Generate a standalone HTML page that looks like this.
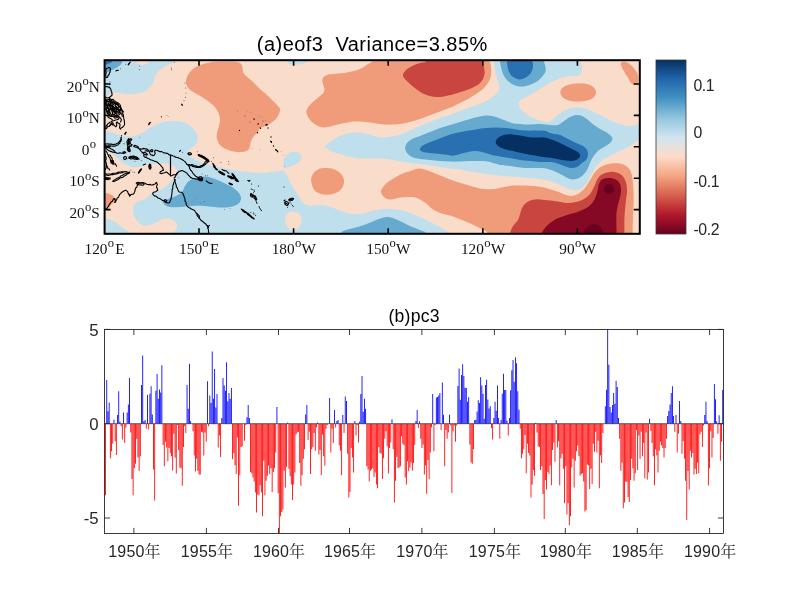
<!DOCTYPE html>
<html lang="zh"><head><meta charset="utf-8"><title>EOF3</title>
<style>html,body{margin:0;padding:0;background:#fff}body{width:800px;height:600px;overflow:hidden}svg{display:block}.ser{font-family:"Liberation Serif","Noto Serif CJK SC",serif;font-size:15.3px;fill:#111}.san{font-family:"Liberation Sans","Noto Sans CJK SC",sans-serif;fill:#262626}</style></head><body>
<svg width="800" height="600" viewBox="0 0 800 600">
<rect width="800" height="600" fill="#fff"/>
<defs><clipPath id="mc"><rect x="104.6" y="60.2" width="535.1999999999999" height="173.60000000000002"/></clipPath>
<linearGradient id="cb" x1="0" y1="0" x2="0" y2="1"><stop offset="0.0000" stop-color="#053061"/><stop offset="0.1111" stop-color="#2166ac"/><stop offset="0.2222" stop-color="#4393c3"/><stop offset="0.3333" stop-color="#92c5de"/><stop offset="0.4444" stop-color="#d1e5f0"/><stop offset="0.5556" stop-color="#fddbc7"/><stop offset="0.6667" stop-color="#f4a582"/><stop offset="0.7778" stop-color="#d6604d"/><stop offset="0.8889" stop-color="#b2182b"/><stop offset="1.0000" stop-color="#67001f"/></linearGradient></defs>
<g clip-path="url(#mc)">
<rect x="104.6" y="60.2" width="535.1999999999999" height="173.60000000000002" fill="#f9dcca"/>
<path d="M95,50C108,46.7 159.8,48.2 173,50C186.2,51.8 174.8,58.5 174,61C173.2,63.5 170.3,63.6 168,65C165.7,66.4 162.1,67.7 160,69.4C157.9,71.1 156.7,73.1 155.6,75C154.5,76.9 154.4,79.2 153.6,81C152.8,82.8 152.2,84.5 151,86C149.8,87.5 148.2,88.8 146.4,90C144.6,91.2 142.4,92.3 140,93C137.6,93.7 135,94.1 132,94.2C129,94.3 125,93.7 122,93.4C119,93.1 116.2,92.5 114,92.6C111.8,92.7 110.3,93.2 109,94C107.7,94.8 106.8,96.7 106,97.4C105.2,98.1 105.8,97.9 104,98C102.2,98.1 96.5,102.7 95,98C93.5,93.3 95,78 95,70C95,62 82,53.3 95,50Z" fill="#c0dfec"/>
<path d="M95,131C96.5,111.9 101.2,130.3 104,130.6C106.8,130.9 109.3,131.9 112,132.6C114.7,133.3 117.3,134.4 120,135C122.7,135.6 125.3,136.3 128,136.4C130.7,136.5 133.5,136 136,135.4C138.5,134.8 140.7,133.8 143,132.6C145.3,131.4 147.5,129.4 150,128C152.5,126.6 155.3,125.1 158,124C160.7,122.9 163.3,122.1 166,121.6C168.7,121.1 171.3,120.9 174,121C176.7,121.1 179.5,121.3 182,122C184.5,122.7 186.9,123.7 189,125C191.1,126.3 193,128.2 194.4,130C195.8,131.8 197,134 197.4,136C197.8,138 197.6,140.3 197,142C196.4,143.7 195.2,144.9 194,146C192.8,147.1 191,147.6 190,148.6C189,149.6 188,150.8 188,152C188,153.2 188.7,154.7 190,156C191.3,157.3 193.3,158.7 196,160C198.7,161.3 202.3,162.8 206,164C209.7,165.2 214,166.1 218,167C222,167.9 225.7,168.6 230,169.4C234.3,170.2 239,171 244,171.6C249,172.2 256,172.9 260,173C264,173.1 265.3,172.6 268,172.4C270.7,172.2 273.7,171.9 276,171.6C278.3,171.3 280.1,170.7 281.6,170.8C283.1,170.9 284.1,171.2 285.2,172.4C286.3,173.6 286.7,175.6 288,178C289.3,180.4 291.2,183.8 293,187C294.8,190.2 297.3,194.3 299,197C300.7,199.7 301.2,201.6 303,203C304.8,204.4 307.2,205.3 310,205.6C312.8,205.9 317,204.9 320,205C323,205.1 325.3,205.3 328,206C330.7,206.7 333.3,208 336,209C338.7,210 341.3,211.2 344,212C346.7,212.8 349.3,213.7 352,214C354.7,214.3 357.3,214.3 360,214C362.7,213.7 365.3,212.7 368,212C370.7,211.3 373.3,210.5 376,210C378.7,209.5 381.3,209.2 384,209C386.7,208.8 389.3,208.8 392,209C394.7,209.2 397,209.3 400,210C403,210.7 406.7,211.8 410,213C413.3,214.2 416.7,215.5 420,217C423.3,218.5 426.7,220.3 430,222C433.3,223.7 437,225.3 440,227C443,228.7 446.3,230.9 448,232C449.7,233.1 449.3,231.2 450,233.4C450.7,235.6 511.2,243.1 452,245C392.8,246.9 154.5,264 95,245C35.5,226 93.5,150.1 95,131Z" fill="#c0dfec"/>
<path d="M325,146C325.2,144.7 327.5,143.7 330,142C332.5,140.3 336.7,137.5 340,136C343.3,134.5 346.7,133.6 350,133C353.3,132.4 357,132.4 360,132.6C363,132.8 365.3,133.3 368,134C370.7,134.7 373.3,136 376,136.6C378.7,137.2 381.3,137.4 384,137.4C386.7,137.4 389.3,137.1 392,136.6C394.7,136.1 397,135.6 400,134.6C403,133.6 406.7,132 410,130.6C413.3,129.2 416.7,127.4 420,126C423.3,124.6 426.7,123.3 430,122C433.3,120.7 436.7,119.2 440,118C443.3,116.8 446.7,116.2 450,115C453.3,113.8 456.7,112.3 460,111C463.3,109.7 466.7,108.6 470,107.4C473.3,106.2 477,105.2 480,104C483,102.8 485.7,101.3 488,100C490.3,98.7 492.3,97.3 494,96C495.7,94.7 497.1,93.5 498,92C498.9,90.5 499.4,88.8 499.4,87C499.4,85.2 498.6,83 498,81C497.4,79 496.6,77.3 496,75C495.4,72.7 494.7,69.3 494.4,67C494.1,64.7 494.1,63.8 494,61C493.9,58.2 479.7,51.8 494,50C508.3,48.2 565.7,48.2 580,50C594.3,51.8 579.7,58.2 580,61C580.3,63.8 581.8,65 582,67C582.2,69 581.7,71.5 581,73C580.3,74.5 579.5,75.5 578,76C576.5,76.5 574.3,75.8 572,76C569.7,76.2 566.7,76.3 564,77C561.3,77.7 558.7,78.8 556,80C553.3,81.2 550.7,82.5 548,84C545.3,85.5 542.7,87.3 540,89C537.3,90.7 534.7,92.5 532,94C529.3,95.5 526.2,96.7 524,98C521.8,99.3 519.7,100.3 519,102C518.3,103.7 518.8,106 520,108C521.2,110 523.3,112.2 526,114C528.7,115.8 532.7,117.7 536,119C539.3,120.3 543.3,121.8 546,122C548.7,122.2 550,121.2 552,120C554,118.8 556,116.5 558,115C560,113.5 561.7,112.2 564,111C566.3,109.8 569.3,108.6 572,108C574.7,107.4 577.3,107.2 580,107.4C582.7,107.6 585.3,108.5 588,109.4C590.7,110.3 593.3,111.7 596,113C598.7,114.3 601.3,115.7 604,117C606.7,118.3 609.3,119.8 612,121C614.7,122.2 617.3,123.2 620,124C622.7,124.8 625.3,125.8 628,126C630.7,126.2 634,125.5 636,125C638,124.5 637.7,123.5 640,123C642.3,122.5 648.3,119.2 650,122C651.7,124.8 651.7,137.2 650,140C648.3,142.8 642.3,138.7 640,139C637.7,139.3 638,140.7 636,142C634,143.3 630.7,145.5 628,147C625.3,148.5 622.7,149.7 620,151C617.3,152.3 614.7,153.7 612,155C609.3,156.3 606.3,157.5 604,159C601.7,160.5 599.7,162.2 598,164C596.3,165.8 595.3,167.8 594,170C592.7,172.2 591.3,174.7 590,177C588.7,179.3 587.7,182 586,184C584.3,186 582,188 580,189C578,190 576.3,190.2 574,190C571.7,189.8 568.7,189 566,188C563.3,187 560.7,185.2 558,184C555.3,182.8 553,181.8 550,181C547,180.2 543.3,179.5 540,179C536.7,178.5 533.3,178.3 530,178C526.7,177.7 523.3,177.2 520,177C516.7,176.8 513.3,176.8 510,176.6C506.7,176.4 503.3,176 500,175.6C496.7,175.2 493.3,174.8 490,174.4C486.7,174 483.3,173.5 480,173C476.7,172.5 473.3,172.2 470,171.6C466.7,171 463.3,170.1 460,169.6C456.7,169.1 453.3,168.8 450,168.4C446.7,168 443.3,167.6 440,167C436.7,166.4 433.3,165.5 430,165C426.7,164.5 423.3,164.3 420,164C416.7,163.7 413.3,163.4 410,163C406.7,162.6 403.7,162.3 400,161.6C396.3,160.9 392,159.5 388,159C384,158.5 379.7,158.5 376,158.4C372.3,158.3 369.3,158.7 366,158.6C362.7,158.5 359.3,158.4 356,158C352.7,157.6 349.3,156.8 346,156C342.7,155.2 338.8,154 336,153C333.2,152 330.8,151.2 329,150C327.2,148.8 324.8,147.3 325,146Z" fill="#c0dfec"/>
<path d="M284.5,167.8C283.8,167.4 283.5,165.9 283.4,164.8C283.2,163.7 283.2,162.5 283.6,161C284,159.5 284.4,157.4 285.5,156C286.6,154.6 288.4,153.2 290,152.5C291.6,151.8 293.4,151.6 295,151.8C296.6,152 298.4,152.7 299.5,153.5C300.6,154.3 301.3,155.4 301.5,156.5C301.7,157.6 301.2,158.8 300.5,160C299.8,161.2 298.4,162.5 297,163.5C295.6,164.5 293.6,165.3 292,166C290.4,166.7 288.8,167.2 287.5,167.5C286.2,167.8 285.2,168.2 284.5,167.8Z" fill="#c0dfec"/>
<path d="M287,55C283.5,56 286.5,59.5 287,61C287.5,62.5 288.2,63.4 290,64C291.8,64.6 295.5,64.8 298,64.6C300.5,64.4 303.3,63.6 305,63C306.7,62.4 307.5,62.3 308,61C308.5,59.7 311.5,56 308,55C304.5,54 290.5,54 287,55Z" fill="#c0dfec"/>
<path d="M135.6,59C133.4,59.5 135.4,61.1 136,62C136.6,62.9 137.9,63.9 139,64.4C140.1,64.9 141.2,65 142.4,65C143.6,65 145,64.7 146,64.2C147,63.7 148.1,62.9 148.6,62C149.1,61.1 151.4,59.5 149.2,59C147,58.5 137.8,58.5 135.6,59Z" fill="#f9dcca"/>
<path d="M95,150C96.5,138.8 101.5,150.1 104,150.5C106.5,150.9 108.2,151.6 110,152.5C111.8,153.4 113.3,154.7 115,156C116.7,157.3 118.3,159.2 120,160.5C121.7,161.8 123.3,163.1 125,164C126.7,164.9 128.3,165.7 130,166.2C131.7,166.7 133.3,167.1 135,167.2C136.7,167.2 138,166.9 140,166.5C142,166.1 144.7,165.4 147,165C149.3,164.6 151.5,164.1 154,163.8C156.5,163.6 159.5,163.5 162,163.5C164.5,163.5 167,163.6 169,164C171,164.4 172.8,165.2 174,166C175.2,166.8 176,168 176.5,169C177,170 177.1,171 177,172C176.9,173 176.5,174 176,175C175.5,176 175,176.8 174,178C173,179.2 171.3,180.7 170,182C168.7,183.3 167.3,184.8 166,186C164.7,187.2 163.3,188.2 162,189C160.7,189.8 159.3,190 158,190.5C156.7,191 155.3,191.2 154,192C152.7,192.8 151.2,194 150,195C148.8,196 148.2,197.2 147,198C145.8,198.8 144.3,199.5 143,200C141.7,200.5 140.2,200.5 139,201C137.8,201.5 136.4,202.2 135.5,203C134.6,203.8 133.9,204.8 133.5,206C133.1,207.2 133,208.7 133,210C133,211.3 133.2,212.7 133.5,214C133.8,215.3 134.2,216.7 135,218C135.8,219.3 136.8,220.8 138,222C139.2,223.2 140.7,224.4 142,225C143.3,225.6 144.7,225.8 146,225.8C147.3,225.8 148.7,225.4 150,225C151.3,224.6 152.7,224.1 154,223.5C155.3,222.9 156.7,222.2 158,221.5C159.3,220.8 160.7,220 162,219.5C163.3,219 164.7,218.6 166,218.5C167.3,218.4 168.7,218.5 170,218.8C171.3,219.1 172.9,219.7 174,220.5C175.1,221.3 176,222.4 176.5,223.5C177,224.6 177.2,225.8 177,227C176.8,228.2 176.2,229.4 175.5,230.5C174.8,231.6 173.6,231.1 173,233.5C172.4,235.9 179.3,243.1 172,245C164.7,246.9 136.2,246.9 129,245C121.8,243.1 129.5,236 129,233.5C128.5,231 127.5,231.2 126,230C124.5,228.8 121.8,227.3 120,226C118.2,224.7 116.7,223 115,222C113.3,221 111.8,220.4 110,219.8C108.2,219.2 106.9,218.9 104.4,218.6C101.9,218.3 96.6,229.4 95,218C93.4,206.6 93.5,161.2 95,150Z" fill="#f9dcca"/>
<path d="M293,230.7C292,230.7 291.3,230.5 290.4,230C289.5,229.5 288.6,228.7 287.8,227.6C287,226.5 286.1,224.9 285.6,223.6C285.1,222.2 284.8,220.8 284.8,219.5C284.8,218.2 285.1,216.9 285.6,215.8C286.1,214.8 286.9,213.8 287.8,213.2C288.7,212.6 289.7,212.2 290.8,212C291.9,211.8 293.3,211.7 294.5,211.9C295.7,212.1 297,212.4 298,213C299,213.6 299.8,214.5 300.4,215.6C301,216.7 301.3,218.2 301.4,219.5C301.5,220.8 301.2,222.3 300.8,223.6C300.4,224.9 299.7,226.2 299,227.2C298.3,228.2 297.4,229.2 296.4,229.8C295.4,230.4 294,230.7 293,230.7Z" fill="#f9dcca"/>
<path d="M95,50C99.5,46.2 117.8,48.3 122.3,50C126.8,51.7 122.3,58.1 122.3,60.1C122.2,62.2 122.1,61.6 121.9,62.4C121.6,63.1 121.3,63.9 120.8,64.6C120.2,65.3 119.5,65.8 118.5,66.5C117.5,67.2 116,68.1 114.8,68.8C113.5,69.4 112,70.1 111,70.6C110,71.1 109.8,71.4 108.8,71.8C107.8,72.1 107.3,72.3 105,72.5C102.7,72.7 96.7,76.8 95,73C93.3,69.2 90.5,53.8 95,50Z" fill="#67aacf"/>
<path d="M163,202C163.5,201 165.8,200 168,199C170.2,198 173.7,197.2 176,196C178.3,194.8 180.5,193.7 182,192C183.5,190.3 183.8,187.8 185,186C186.2,184.2 187.2,182.3 189,181C190.8,179.7 193.5,178.7 196,178C198.5,177.3 201.3,176.6 204,176.6C206.7,176.6 209,177.1 212,178C215,178.9 218.7,180.5 222,182C225.3,183.5 229.2,185.2 232,187C234.8,188.8 237.5,191 239,193C240.5,195 241.2,197.2 241,199C240.8,200.8 239.8,202.7 238,204C236.2,205.3 233.3,206.4 230,207C226.7,207.6 222.3,207.6 218,207.4C213.7,207.2 208.3,206.2 204,206C199.7,205.8 196,205.8 192,206C188,206.2 183.7,206.8 180,207C176.3,207.2 172.5,207.3 170,207C167.5,206.7 166.2,205.8 165,205C163.8,204.2 162.5,203 163,202Z" fill="#67aacf"/>
<path d="M405,148C405.3,147.2 405.8,144.5 407,143C408.2,141.5 409.8,140.2 412,139C414.2,137.8 417,137.2 420,136C423,134.8 426.7,133.3 430,132C433.3,130.7 436.7,129.2 440,128C443.3,126.8 446.7,126 450,125C453.3,124 456.7,123 460,122C463.3,121 466.7,119.9 470,119C473.3,118.1 477,117.2 480,116.6C483,116 485.3,115.5 488,115.6C490.7,115.7 493.3,116.3 496,117C498.7,117.7 501.3,119 504,120C506.7,121 509.3,122.3 512,123C514.7,123.7 517,123.7 520,124C523,124.3 526.7,124.6 530,124.6C533.3,124.6 536.7,123.9 540,124C543.3,124.1 547,124.8 550,125C553,125.2 555.7,125.7 558,125C560.3,124.3 562,122.3 564,121C566,119.7 568,118 570,117C572,116 574,115.2 576,115C578,114.8 580,115.2 582,116C584,116.8 586,118.5 588,120C590,121.5 592,123.5 594,125C596,126.5 598,127.8 600,129C602,130.2 604.2,130.8 606,132C607.8,133.2 609.9,134.8 611,136C612.1,137.2 612.6,137.8 612.4,139C612.2,140.2 611.4,141.7 610,143C608.6,144.3 606,145.7 604,147C602,148.3 599.8,149.3 598,151C596.2,152.7 594.3,155 593,157C591.7,159 591,160.8 590,163C589,165.2 588.3,167.8 587,170C585.7,172.2 583.8,174.5 582,176C580.2,177.5 578,178.5 576,179C574,179.5 572,179.5 570,179C568,178.5 566.3,177.2 564,176C561.7,174.8 558.7,173.2 556,172C553.3,170.8 550.7,169.7 548,169C545.3,168.3 543,168.2 540,168C537,167.8 533.3,168.1 530,168C526.7,167.9 523.3,167.7 520,167.4C516.7,167.1 513.3,166.4 510,166C506.7,165.6 503.3,165.7 500,165C496.7,164.3 493.3,162.7 490,162C486.7,161.3 483.3,161.2 480,161C476.7,160.8 473.3,160.9 470,161C466.7,161.1 463.3,161.5 460,161.6C456.7,161.7 453.3,161.7 450,161.6C446.7,161.5 443.3,161.3 440,161C436.7,160.7 433.3,160.3 430,160C426.7,159.7 423,159.5 420,159C417,158.5 414.2,158 412,157C409.8,156 408.2,154.5 407,153C405.8,151.5 405.3,148.8 405,148C404.7,147.2 404.7,148.8 405,148Z" fill="#67aacf"/>
<path d="M500,50C492.7,51.8 499.8,58.2 500,61C500.2,63.8 500.5,64.8 501,67C501.5,69.2 502,71.8 503,74C504,76.2 505.3,78.2 507,80C508.7,81.8 510.8,83.5 513,84.6C515.2,85.7 517.5,86.5 520,86.6C522.5,86.7 525.3,86.2 528,85.4C530.7,84.6 533.7,83.4 536,82C538.3,80.6 540.4,78.8 542,77C543.6,75.2 545.1,73 545.6,71C546.1,69 545.3,66.7 545,65C544.7,63.3 544.2,63.5 544,61C543.8,58.5 551.3,51.8 544,50C536.7,48.2 507.3,48.2 500,50Z" fill="#67aacf"/>
<path d="M341,245C326.8,243.1 340.2,235.9 341,233.4C341.8,230.9 343.8,230.9 346,230C348.2,229.1 351,228.8 354,228C357,227.2 360.7,226.2 364,225C367.3,223.8 371,222.2 374,221C377,219.8 379.7,218.7 382,218C384.3,217.3 386,216.9 388,217C390,217.1 391.7,217.6 394,218.4C396.3,219.2 399.3,220.7 402,222C404.7,223.3 408.3,225.2 410,226C411.7,226.8 410.3,226.3 412,227C413.7,227.7 417.7,228.9 420,230C422.3,231.1 425,230.9 426,233.4C427,235.9 440.2,243.1 426,245C411.8,246.9 355.2,246.9 341,245Z" fill="#67aacf"/>
<path d="M95,50C97.9,47.6 109.6,48.3 112.5,50C115.4,51.7 112.6,58.2 112.5,60.1C112.4,62.1 112.4,61.2 112.1,61.6C111.9,62.1 111.7,62.4 111,62.8C110.3,63.1 109,63.6 108,63.9C107,64.2 107.2,64.5 105,64.6C102.8,64.7 96.7,67 95,64.6C93.3,62.2 92.1,52.4 95,50Z" fill="#2970b1"/>
<path d="M507,50C502.8,51.8 506.9,58.3 507,61C507.1,63.7 507.1,64.2 507.4,66C507.7,67.8 508.1,70.2 509,72C509.9,73.8 511.3,75.8 513,77C514.7,78.2 517,79.2 519,79.4C521,79.6 523.2,78.9 525,78C526.8,77.1 528.7,75.5 530,74C531.3,72.5 532.1,70.7 532.6,69C533.1,67.3 533,65.3 533,64C533,62.7 532.5,63.3 532.4,61C532.3,58.7 536.6,51.8 532.4,50C528.2,48.2 511.2,48.2 507,50Z" fill="#2970b1"/>
<path d="M420,149C420.3,148.3 420.7,147 422,146C423.3,145 425.7,144 428,143C430.3,142 433,141.2 436,140C439,138.8 442.7,137.2 446,136C449.3,134.8 452.7,133.8 456,133C459.3,132.2 462.7,131.6 466,131C469.3,130.4 472.7,129.9 476,129.4C479.3,128.9 482.7,128.3 486,128C489.3,127.7 492.7,127.4 496,127.4C499.3,127.4 502.7,127.7 506,128C509.3,128.3 512.7,129 516,129.4C519.3,129.8 522.7,130.4 526,130.6C529.3,130.8 532.7,130.5 536,130.6C539.3,130.7 543.7,130.6 546,131C548.3,131.4 547.7,132.3 550,133C552.3,133.7 557,134 560,135C563,136 565.3,137.7 568,139C570.7,140.3 573.5,141.8 576,143C578.5,144.2 581.2,144.8 583,146C584.8,147.2 586.2,148.5 587,150C587.8,151.5 588.2,153.3 588,155C587.8,156.7 587,158.7 586,160C585,161.3 583.5,161.8 582,163C580.5,164.2 578.8,166.2 577,167C575.2,167.8 573.2,168.2 571,168C568.8,167.8 566.5,166.8 564,166C561.5,165.2 558.7,163.7 556,163C553.3,162.3 550.7,162.2 548,162C545.3,161.8 543,162.2 540,162C537,161.8 533.3,161.3 530,161C526.7,160.7 523.3,160.5 520,160C516.7,159.5 513.3,158.6 510,158C506.7,157.4 503,156.9 500,156.4C497,155.9 494.7,155.7 492,155C489.3,154.3 486.7,153.1 484,152.4C481.3,151.7 478.7,151.1 476,151C473.3,150.9 470.7,151.5 468,152C465.3,152.5 462.3,153.4 460,154C457.7,154.6 456,155.4 454,155.6C452,155.8 450.3,155.3 448,155C445.7,154.7 443,154.3 440,154C437,153.7 432.8,153.3 430,153C427.2,152.7 424.7,152.5 423,152C421.3,151.5 420.5,150.5 420,150C419.5,149.5 419.7,149.7 420,149Z" fill="#2970b1"/>
<path d="M495.6,142C495.6,140.7 496.6,139.2 498,138C499.4,136.8 501.7,135.6 504,135C506.3,134.4 509.3,134.3 512,134.4C514.7,134.5 517.3,135 520,135.4C522.7,135.8 525.3,136.6 528,137C530.7,137.4 533.3,137.5 536,137.6C538.7,137.7 541.7,137.2 544,137.4C546.3,137.6 547.7,138.2 550,139C552.3,139.8 555.3,140.8 558,142C560.7,143.2 563.3,144.7 566,146C568.7,147.3 571.8,148.8 574,150C576.2,151.2 578,152 579,153C580,154 580.2,155 580,156C579.8,157 579.2,158.2 578,159C576.8,159.8 575,160.5 573,160.8C571,161.1 568.5,160.9 566,160.6C563.5,160.3 560.7,159.7 558,159.2C555.3,158.7 553,158.3 550,157.8C547,157.3 543.3,156.9 540,156.4C536.7,155.9 533.3,155.4 530,154.8C526.7,154.2 523,153.5 520,152.8C517,152.1 514.7,151.4 512,150.8C509.3,150.2 506.3,149.8 504,149C501.7,148.2 499.4,147.2 498,146C496.6,144.8 495.6,143.3 495.6,142Z" fill="#053061"/>
<path d="M186,81C186.2,79.2 186.8,77 188,75C189.2,73 191,70.7 193,69C195,67.3 197.2,66.1 200,65C202.8,63.9 206.7,63.2 210,62.6C213.3,62 216.3,61.8 220,61.6C223.7,61.4 228.7,61.4 232,61.6C235.3,61.8 238.3,62.1 240,63C241.7,63.9 241.9,65.5 242.4,67C242.9,68.5 242.4,70.5 243,72C243.6,73.5 244.5,74.5 246,76C247.5,77.5 249.7,78.8 252,81C254.3,83.2 257.7,86.8 260,89C262.3,91.2 264,92.2 266,94C268,95.8 270.2,98.2 272,100C273.8,101.8 275.7,103.5 277,105C278.3,106.5 279.7,107.5 280,109C280.3,110.5 279.7,112.3 279,114C278.3,115.7 277.3,117.5 276,119C274.7,120.5 272.7,121.8 271,123C269.3,124.2 267.8,125.2 266,126C264.2,126.8 261.3,127 260,128C258.7,129 259,130.7 258,132C257,133.3 255.2,134.5 254,136C252.8,137.5 251.7,139.3 251,141C250.3,142.7 250.5,144.5 250,146C249.5,147.5 249.3,149 248,150C246.7,151 244.3,151.7 242,152C239.7,152.3 236.7,152.1 234,151.6C231.3,151.1 228.3,150.1 226,149C223.7,147.9 221.5,146.7 220,145C218.5,143.3 217.5,141 217,139C216.5,137 216.7,135.2 217,133C217.3,130.8 218.5,128.3 219,126C219.5,123.7 220.2,121.3 220,119C219.8,116.7 219,114.2 218,112C217,109.8 215.7,107.8 214,106C212.3,104.2 210,102.5 208,101C206,99.5 204.2,98.3 202,97C199.8,95.7 197,94.2 195,93C193,91.8 191.3,91.2 190,90C188.7,88.8 187.7,87.5 187,86C186.3,84.5 185.8,82.8 186,81Z" fill="#f09b7a"/>
<path d="M306.4,111C306.6,109.2 307.7,107.7 309,106C310.3,104.3 312.2,102.7 314,101C315.8,99.3 318.3,97.5 320,96C321.7,94.5 323.3,93.5 324,92C324.7,90.5 324.3,88.7 324,87C323.7,85.3 322.6,83.5 322.4,82C322.2,80.5 322.2,79.2 323,78C323.8,76.8 325.2,75.7 327,75C328.8,74.3 331.2,74.3 334,74C336.8,73.7 340.7,73.5 344,73C347.3,72.5 351,71.8 354,71C357,70.2 359.7,69.2 362,68C364.3,66.8 366.3,65.2 368,64C369.7,62.8 371.3,63.3 372,61C372.7,58.7 352.3,51.8 372,50C391.7,48.2 470.3,48.2 490,50C509.7,51.8 489.8,58.2 490,61C490.2,63.8 490.8,64.7 491,67C491.2,69.3 491.3,72.7 491,75C490.7,77.3 490.2,78.8 489,81C487.8,83.2 486.2,85.8 484,88C481.8,90.2 478.7,92.2 476,94C473.3,95.8 470.7,97.5 468,99C465.3,100.5 462.7,101.7 460,103C457.3,104.3 454.7,105.8 452,107C449.3,108.2 446.7,109 444,110C441.3,111 438.7,112 436,113C433.3,114 430.7,115 428,116C425.3,117 423,118 420,119C417,120 413.3,121.2 410,122C406.7,122.8 403.3,123.6 400,124C396.7,124.4 393.3,124.6 390,124.6C386.7,124.6 383.3,124.3 380,124C376.7,123.7 373.3,123 370,122.6C366.7,122.2 363.3,121.7 360,121.6C356.7,121.5 353.3,121.6 350,122C346.7,122.4 343,123.3 340,124C337,124.7 334.7,125.4 332,126C329.3,126.6 326.3,127.4 324,127.4C321.7,127.4 320,126.9 318,126C316,125.1 313.7,123.5 312,122C310.3,120.5 308.9,118.8 308,117C307.1,115.2 306.2,112.8 306.4,111Z" fill="#f09b7a"/>
<path d="M311.2,181.4C310.9,178.9 311.4,176.9 312.4,175C313.4,173.1 315.1,171.2 317,170C318.9,168.8 321.5,168.2 324,168C326.5,167.8 329.5,167.9 332,168.6C334.5,169.3 337.2,170.6 339,172C340.8,173.4 342.2,175.3 343,177C343.8,178.7 344.2,180.2 344,182C343.8,183.8 343.2,186.3 342,188C340.8,189.7 339.2,191.3 337,192.4C334.8,193.5 331.7,194.3 329,194.6C326.3,194.9 323.4,194.8 321,194C318.6,193.2 316,192.1 314.4,190C312.8,187.9 311.5,183.9 311.2,181.4Z" fill="#f09b7a"/>
<path d="M381,192C380.8,190.3 381.8,188.7 383,187C384.2,185.3 385.8,183.7 388,182C390.2,180.3 393.3,178.5 396,177C398.7,175.5 401.3,174.1 404,173C406.7,171.9 410,171.1 412,170.4C414,169.7 414.7,169.3 416,169C417.3,168.7 418.3,168.4 420,168.6C421.7,168.8 423.7,169.3 426,170C428.3,170.7 431,171.8 434,173C437,174.2 440.7,175.7 444,177C447.3,178.3 450.7,179.8 454,181C457.3,182.2 460.7,183 464,184C467.3,185 470.7,186.2 474,187C477.3,187.8 480.7,188.7 484,189C487.3,189.3 490.7,189.3 494,189C497.3,188.7 500.7,187.6 504,187C507.3,186.4 510.7,185.8 514,185.6C517.3,185.4 520.7,185.5 524,185.6C527.3,185.7 530.7,185.7 534,186C537.3,186.3 541,186.9 544,187.6C547,188.3 549.3,189.2 552,190C554.7,190.8 557.7,191.6 560,192.4C562.3,193.2 564,194.4 566,195C568,195.6 570,196.2 572,196C574,195.8 576,195.2 578,194C580,192.8 582.2,191 584,189C585.8,187 587.5,184.3 589,182C590.5,179.7 591.5,177.2 593,175C594.5,172.8 596.2,170.6 598,169C599.8,167.4 601.7,166.5 604,165.6C606.3,164.7 609.3,163.9 612,163.6C614.7,163.3 617.7,163.2 620,163.6C622.3,164 624.3,164.9 626,166C627.7,167.1 629,168.3 630,170C631,171.7 631.5,173.7 632,176C632.5,178.3 632.7,181 633,184C633.3,187 633.5,190.7 633.6,194C633.7,197.3 633.7,200.3 633.6,204C633.5,207.7 633.2,211.1 633,216C632.8,220.9 632.7,228.6 632.6,233.4C632.5,238.2 656.7,243.1 632.6,245C608.5,246.9 512.1,246.9 488,245C463.9,243.1 489.3,236.2 488,233.4C486.7,230.6 483,229.9 480,228.2C477,226.5 473.3,224.7 470,223.2C466.7,221.7 463.3,220.5 460,219.2C456.7,217.9 453.3,216.6 450,215.6C446.7,214.6 443,214.1 440,213C437,211.9 434.3,210.4 432,208.8C429.7,207.2 428.3,204.9 426,203.2C423.7,201.5 420.7,199.4 418,198.4C415.3,197.4 413,197.1 410,197C407,196.9 403.3,197.2 400,197.6C396.7,198 392.7,199.7 390,199.6C387.3,199.5 385.5,198.3 384,197C382.5,195.7 381.2,193.7 381,192Z" fill="#f09b7a"/>
<path d="M560.4,93C560.1,91.2 561.1,89.3 562.4,88C563.7,86.7 565.7,85.7 568,85C570.3,84.3 573.3,83.8 576,83.6C578.7,83.4 581.5,83.3 584,83.6C586.5,83.9 589.2,84.5 591,85.4C592.8,86.3 594.2,87.7 595,89C595.8,90.3 596.2,91.7 596,93C595.8,94.3 595.2,95.8 594,97C592.8,98.2 591.3,99.3 589,100C586.7,100.7 583,101.2 580,101.4C577,101.6 573.7,101.5 571,101C568.3,100.5 565.8,99.9 564,98.6C562.2,97.3 560.7,94.8 560.4,93Z" fill="#f09b7a"/>
<path d="M621.2,62.5C621.9,62 623.6,61.7 625,61.9C626.4,62.1 627.9,62.7 629.4,63.8C630.8,64.8 632.5,66.7 633.8,68.1C635,69.6 636.1,71.1 636.9,72.5C637.6,73.9 637.9,74.8 638.1,76.2C638.3,77.7 638.3,79.9 638.1,81.2C637.9,82.6 637.6,83.8 636.9,84.4C636.1,85 634.8,85.3 633.8,85C632.7,84.7 631.6,83.6 630.6,82.5C629.7,81.4 629.1,79.7 628.1,78.1C627.2,76.6 625.9,74.7 625,73.1C624.1,71.6 623.2,70.1 622.5,68.8C621.8,67.4 621.2,66 621,65C620.8,64 620.6,63 621.2,62.5Z" fill="#f09b7a"/>
<path d="M95,193C96.5,190.3 101.8,192.9 104,193C106.2,193.1 106.5,193.1 108,193.6C109.5,194.1 111.8,195.1 113,196C114.2,196.9 114.8,198 115,199C115.2,200 114.7,201 114,202C113.3,203 112.2,204 111,205C109.8,206 108.2,207.3 107,208C105.8,208.7 106,208.8 104,209C102,209.2 96.5,211.7 95,209C93.5,206.3 93.5,195.7 95,193Z" fill="#f09b7a"/>
<path d="M403,75C403.2,73.5 404.5,71.5 406,70C407.5,68.5 409.7,67.2 412,66C414.3,64.8 417.7,63.8 420,63C422.3,62.2 425,63.2 426,61C427,58.8 416.5,51.8 426,50C435.5,48.2 473.5,48.2 483,50C492.5,51.8 482.8,58.2 483,61C483.2,63.8 483.7,65 484,67C484.3,69 484.8,71 484.6,73C484.4,75 483.9,77.2 483,79C482.1,80.8 480.8,82.5 479,84C477.2,85.5 474.5,86.8 472,88C469.5,89.2 466.7,90.1 464,91C461.3,91.9 458.7,92.6 456,93.4C453.3,94.2 450.7,95 448,95.6C445.3,96.2 442.7,96.9 440,97C437.3,97.1 434.7,96.9 432,96.4C429.3,95.9 426.7,95.2 424,94C421.3,92.8 418.5,90.8 416,89C413.5,87.2 410.8,84.7 409,83C407.2,81.3 406,80.3 405,79C404,77.7 402.8,76.5 403,75Z" fill="#c84540"/>
<path d="M509,245C489.9,243.1 509.3,236.6 510,233.4C510.7,230.2 511.7,228.2 513,226C514.3,223.8 516.8,222 518,220C519.2,218 519.3,216 520,214C520.7,212 521,209.8 522,208C523,206.2 524.3,204.3 526,203C527.7,201.7 529.7,200.6 532,200C534.3,199.4 537,199.3 540,199.4C543,199.5 546.7,200.2 550,200.6C553.3,201 557,201.6 560,202C563,202.4 565.3,203 568,203C570.7,203 573.3,202.7 576,202C578.7,201.3 581.7,200.3 584,199C586.3,197.7 588.3,196 590,194C591.7,192 592.8,189.3 594,187C595.2,184.7 595.8,182 597,180C598.2,178 599.3,176.3 601,175C602.7,173.7 604.8,172.9 607,172.4C609.2,171.9 611.8,171.7 614,172C616.2,172.3 618.3,173 620,174C621.7,175 622.9,176.3 624,178C625.1,179.7 625.9,181.7 626.4,184C626.9,186.3 627.1,189.3 627,192C626.9,194.7 626.3,197 626,200C625.7,203 625.3,206.7 625,210C624.7,213.3 624.5,216.1 624.4,220C624.3,223.9 624.4,229.2 624.4,233.4C624.4,237.6 643.6,243.1 624.4,245C605.2,246.9 528.1,246.9 509,245Z" fill="#c84540"/>
<path d="M542,245C529.6,243.1 541.5,236.2 542,233.4C542.5,230.6 543.7,229.7 545,228C546.3,226.3 548.2,224.5 550,223C551.8,221.5 553.7,220.2 556,219C558.3,217.8 561.3,216.9 564,216C566.7,215.1 569.3,214.4 572,213.6C574.7,212.8 577.3,212.1 580,211C582.7,209.9 585.8,208.5 588,207C590.2,205.5 591.7,203.8 593,202C594.3,200.2 595.2,198 596,196C596.8,194 597.1,192 597.6,190C598.1,188 598.3,185.7 599,184C599.7,182.3 600.7,180.6 602,179.6C603.3,178.6 605.2,178.2 607,178C608.8,177.8 611.2,177.9 613,178.4C614.8,178.9 616.7,179.7 618,181C619.3,182.3 620.1,184.2 620.6,186C621.1,187.8 621.2,189.8 621,192C620.8,194.2 620.2,196.7 619.6,199C619,201.3 618.1,203.5 617.6,206C617.1,208.5 616.6,211 616.4,214C616.2,217 616.4,220.8 616.4,224C616.4,227.2 616.6,229.9 616.6,233.4C616.6,236.9 629,243.1 616.6,245C604.2,246.9 554.4,246.9 542,245Z" fill="#850924"/>
<path d="M604,189C604,187.8 604.6,186.2 605.4,185.4C606.2,184.6 607.8,184 609,184C610.2,184 611.8,184.6 612.6,185.4C613.4,186.2 614,187.8 614,189C614,190.2 613.4,191.8 612.6,192.6C611.8,193.4 610.2,194 609,194C607.8,194 606.2,193.4 605.4,192.6C604.6,191.8 604,190.2 604,189Z" fill="#67001f"/>
<path d="M583,245C579.7,243.1 582.5,236.2 583,233.4C583.5,230.6 584.5,229.5 586,228C587.5,226.5 590,224.9 592,224.4C594,223.9 596.3,224.2 598,225C599.7,225.8 601.2,227.6 602,229C602.8,230.4 602.8,230.7 603,233.4C603.2,236.1 606.3,243.1 603,245C599.7,246.9 586.3,246.9 583,245Z" fill="#67001f"/>
<g fill="none" stroke="#000" stroke-width="1.1" stroke-linejoin="round" stroke-linecap="round">
<path d="M106.2,69 L106.8,68.2 L107.8,68 L108.9,67.5 L109.8,67.8 L110.2,68.4 L110.6,69.2 L110,70.6 L110.2,72 L109.3,73.2 L109.2,74.5 L108,75.5 L107.6,77.2 L106.4,77.6 L106,77 L105.8,75.8 L105.7,74.2 L106.2,73 L106.1,72.2 L105.8,70.5 L106.2,69"/>
<path d="M115.8,70.9 L117,70.3 L118.3,70.4"/>
<path d="M128.2,64.8 L128.8,64.1 L129.2,63.5 L130.1,62.4 L130.1,62.1"/>
<path d="M128.4,64.4 L129.3,63.5 L129.6,63"/>
<path d="M104.5,87.2 L105.4,86.6 L107,86.6 L108.1,87.1 L109.5,87 L109.8,88 L110.6,88.8 L111,89.8 L111.2,91 L111.6,91.7 L112,93.2 L111.7,93.7 L112.2,94.8 L111.2,96 L110,96.8 L109.4,98.2 L109.7,99 L109.6,100 L109.8,100.9 L110.4,101.6 L111.2,101.9 L112,102.6 L113.3,103.1 L114,103.2 L114.8,103.6 L116,103.8 L116.8,104.7 L117.6,105 L118.5,105.7 L119,106.8 L120.2,107.3 L120.5,108.5 L121.3,109.5 L122.2,110 L122.6,111 L123.6,112"/>
<path d="M105,98 L105.5,99.5 L105.6,100.5 L106.6,101.2 L106.5,102.2 L106,103 L106.9,103.4 L107.2,104.2 L108.3,104.1 L109,103.8 L109.8,104.4 L110.4,105 L110.3,106.2 L109.6,106.6 L110.3,107.4 L111,108 L111.5,108 L112.8,107.6 L113.5,108.7 L114,109 L113.9,109.7 L113.2,110.8 L114,111.6 L115,112"/>
<path d="M106.6,105 L107.1,105.5 L108.4,106 L108.9,105.5 L110,105.6 L110.4,106.5 L111.6,107 L112.2,106.6 L113.4,106.6 L114.1,107.6 L115,108 L115.5,107.8 L116.8,107.6 L117.7,108.7 L118.6,109.2 L119.8,109.9 L120.4,110"/>
<path d="M108,108 L108.6,108.5 L109.6,109.2 L110.3,109.3 L111.2,108.8 L112.3,109.3 L112.6,110.4 L113.2,110 L114.4,110 L115,110.8 L116,111.6 L117,111.2 L117.8,111.2 L118.3,111.9 L119.6,112.8"/>
<path d="M104.5,102 L104.9,102.7 L105.6,103.2 L105.7,104.5 L105,105.5 L105.6,106.4 L106.2,107 L106.2,107.7 L105.8,109.2 L106.9,110 L107.2,110.2 L107.4,111.6 L107,112.5 L108.4,113.2"/>
<path d="M112,101 L112.9,101.3 L113.6,101.9 L115,102.2 L116,102.1 L117.8,102.8 L118.4,103.2 L119.6,104.2 L120,104.8 L120.6,106.2 L120.6,107 L121.4,108.5 L121.4,109.6 L122.2,111 L122.2,112.8 L123,114 L123.4,115.2 L123.6,117 L123.7,118.4 L124.2,120 L124.3,121.2 L124.6,123 L124.5,124.8 L123.8,125.8 L123,126.7 L122.2,127.6 L121,128 L120.6,129.2 L119.6,128 L119.7,126.5 L120,125.5 L119.9,124.2 L119.2,123.5 L118,123.2 L117.6,122 L116.9,122.2 L116.2,123 L116.5,123.7 L116.8,125.2 L116.3,126.4 L115.8,126.8 L115.1,126.1 L113.8,125 L112.7,124.4 L112,124 L110.9,124.7 L110.4,125 L109.7,125.9 L109,126.2 L107.9,126.5 L107.2,127.2 L106.7,128.4 L105.6,128.8"/>
<path d="M105.6,128.8 L106.1,127.7 L106,126 L107,125.3 L107.4,124.2 L108.1,123.6 L109.2,123 L110.1,122 L111.2,121.8 L111.9,121.1 L113.4,120.8 L114.3,120.6 L115.6,120 L117,119.7 L117.6,119.4 L118.7,118.9 L119,117.6 L118.9,116.6 L118,115.8 L118.5,115 L119.6,114.6 L120,113.5 L121,113"/>
<path d="M115,103 L116.2,104 L117.2,104.2 L118.2,105.2 L118.6,106.2 L118.3,107.4 L117.8,108 L116.6,107.7 L116.2,107.2 L116,106.6 L115,105.4 L115.2,104.2 L115,103"/>
<path d="M116.6,108 L117.1,108.8 L118.2,109 L118.4,110.3 L119,111 L119.1,112 L118.4,113.2 L117,112.6 L116.5,111.9 L116.2,110.4 L116.6,108.9 L116.6,108"/>
<path d="M112.8,106.2 L113.1,106.7 L114,107.8 L114.9,109.2 L115,110 L115,111.5 L115.6,112.4 L114.8,113 L114.7,112.1 L113.8,111 L113.2,109.8 L112.8,108.6 L112.5,107 L112.8,106.2"/>
<path d="M110,109 L111.2,109.6 L111.6,110 L112,111.5 L112.4,112.2 L112.4,113.7 L112.6,114.6 L111.4,115.6 L111.2,114.4 L110.4,113.8 L109.9,112.3 L109.8,111.2 L109.7,110.2 L110,109"/>
<path d="M106,108 L106.8,107.6 L108,107.4 L108.5,108.5 L109.6,108.8 L109.3,109.9 L109.2,111 L108.5,111.9 L107.6,112 L106.8,111.8 L106.2,110.8 L106.1,109.4 L106,108"/>
<path d="M105.8,101.4 L106.7,100.7 L107.6,100.8 L108.2,101.3 L109,102.4 L108.4,103.9 L108.6,104.8 L107.5,105.4 L107,106 L106.6,105.4 L105.8,104.6 L105.6,103 L105.8,101.4"/>
<path d="M110.4,104 L111.2,104 L112,103.4 L112.4,103.9 L113.6,104.2 L112.8,105.4 L111.7,105.2 L111,105.4 L110.4,104"/>
<path d="M114.8,113.6 L115.8,113.5 L116.4,113.4 L117,114.8 L115.8,115.6 L114.6,115 L114.8,113.6"/>
<path d="M105.6,97 L106.4,97.7 L107,98 L108.2,97.7 L108.6,97.6 L109.4,98.1 L110,98.6 L110.8,99.3 L111.6,99.6 L113,99.4 L113.6,100 L114.2,100.6 L115,101.3 L115.8,101.2"/>
<path d="M105.6,99.4 L106.6,99.9 L107.2,99.8 L108.4,99.4 L108.8,99.4 L109.7,100.3 L110.4,100.4 L111.5,100.4 L112,101"/>
<path d="M106,100 L106.5,100.9 L107.6,102 L108,101.3 L109.2,101 L109.6,102.1 L110.8,102.8 L110.5,104.1 L109.6,104.6 L110.1,105.6 L111.2,106.2 L110.7,106.7 L110,107.8 L111.2,108.7 L111.8,108.8 L112.3,108.6 L113.4,107.6 L113.9,108.4 L114.6,109.2 L116,108.6 L117,109.6 L117.2,110 L118.6,109.6 L118.8,110.5 L119.6,111.6"/>
<path d="M106.2,105 L107.1,105.5 L108,106.2 L107.2,107 L107,108.2 L108.1,108.5 L108.8,109.6 L108.4,110.6 L108,111.8 L108.5,112.1 L109.8,112.8 L109.6,113.9 L109.2,115 L109.8,116.1 L111.2,116.4 L112.4,116.4 L113,115.6 L113.3,116 L114.4,116.8 L114.9,116.8 L116.2,116.2 L116.8,116.5 L117.8,117.4"/>
<path d="M111,101 L111.7,102.2 L112.6,102.6 L113.7,102.1 L114.2,102 L114.6,103.3 L115.6,103.8 L117,103.4 L117.8,104.4 L118.4,105 L118.6,105.5 L119.6,106.8 L120.3,107.8 L120.6,109 L120.5,110.4 L121.2,111"/>
<path d="M112,110 L112.8,111.1 L113.4,111.6 L112.7,112.9 L112.8,113.6 L113.1,114.6 L114.2,115 L114,115.9 L113.8,117 L114.6,118 L115.4,118.2 L116,117.7 L117,117.8"/>
<path d="M107,113 L107.7,113.6 L108.4,114.6 L107.7,115.3 L107.8,116.6 L108.2,117 L109.4,118 L110,118.2 L111,118.8 L111.9,119.2 L112.4,120"/>
<path d="M115,106 L115.8,106.1 L116.6,106.8 L117,107.4 L117.6,108.8 L118.2,109 L119.2,110 L119.8,111.1 L120,112.2 L120.4,113.1 L121.4,114 L122.2,114.8 L122.2,116.4"/>
<path d="M109.2,126.2 L110.1,125 L110.4,124 L111.2,123.6 L112,122.5 L113.2,123.5 L112.8,124.3 L112.6,125"/>
<path d="M116.8,115 L117.9,116.1 L118.6,116.4 L119.4,117.5 L120.4,118 L121.1,119.1 L121.4,120 L120.9,120.9 L120.6,122"/>
<path d="M125,134.5 L124.9,133.4 L125.6,133 L126.2,132.2"/>
<path d="M125.2,133.8 L126,132.6"/>
<path d="M148.8,124.8 L148.8,124.3 L149.6,123.4 L150.4,122.4"/>
<path d="M149,124.2 L149.3,123.2 L150,122.8"/>
<path d="M104.5,144.2 L105.4,144.3 L107,143.8 L108.8,144.1 L110,144 L111.3,144.1 L113,144.6 L114.2,144.4 L115.8,144.2 L116.6,143.6 L118,143 L118.6,142.5 L119.6,141.2 L120.6,140.2 L120.8,139.2 L120.9,138.5 L121.4,137"/>
<path d="M104.5,145.8 L105.7,145.8 L107.2,146 L108.2,145.8 L110,145.8 L111.4,146 L112.8,146.2 L113.9,146.1 L115.6,146 L116.4,145.3 L118,145 L118.5,144 L119.8,143.2 L120,141.8 L121,141.2 L121.1,140 L121.6,139.2"/>
<path d="M104.5,147 L105.3,147.4 L106,147.8 L107.1,147.6 L107.8,147.2 L108.9,147.9 L109.6,148 L110.3,148.4 L111.2,149.2 L112.5,149.3 L113,150 L114.1,150.7 L114.8,151.2 L115,152.2 L116,152.6 L117,153.2 L118.9,153.1 L120,152.8 L121.5,153.2 L122.6,153 L124,153.4"/>
<path d="M106,148.4 L106.5,149 L107.6,149.6 L108.4,150.5 L109.2,150.8 L110.5,151.4 L111.2,151.4 L112.4,152.1 L113.4,152 L114.4,152.6 L115,152.8"/>
<path d="M106,151 L106.4,151.6 L107.2,153 L107.5,154 L108.4,155.2 L108.6,156.6 L109.6,157.4 L110.1,158.6 L110.4,159.6 L110.9,160.8 L111.2,161.6 L111.8,162 L112.4,163.2 L113.4,164 L113.8,164.4 L115,163.6 L115.5,164.3 L116,165 L116.6,166.2"/>
<path d="M109.6,155 L110.4,155.5 L111,156.8 L111.8,157.7 L112.2,159 L112.2,159.9 L113,161.2 L113,161.8 L112.6,163 L111.4,162.6 L111.1,162 L110.4,160.6"/>
<path d="M111.2,160.8 L112.2,160.6 L113.2,160.6 L113.5,161.8 L113.8,162.6 L113.4,163.4 L112.6,164 L112,163.2 L111.2,163.2 L110.9,161.8 L111.2,160.8"/>
<path d="M104.5,154 L105.3,154.8 L105.6,156 L106,157.1 L106.2,159 L105.6,160.3 L105.8,162 L106.4,163.7 L106.6,165 L106.5,166.3 L106,168 L105.6,169 L105.2,170"/>
<path d="M107,166 L107.5,166.9 L108,168.5 L109.2,169 L109.6,170"/>
<path d="M128.4,138.8 L128.4,140 L127.6,140.5 L126.9,141.5 L127,142.5 L127.4,144.1 L127.2,144.8 L127.7,145.7 L128.2,147 L127.6,148.7 L127.6,149.5 L127.7,150.4 L128.4,151.2 L128.9,151.4 L130,151.6 L130.3,150.3 L129.8,149.6 L129.7,148.5 L129,147.4 L129.8,146.6 L130,145.4 L130.5,146.2 L131.4,146.2 L131.8,145 L132.2,144.6 L131,144.2 L130.6,143.8 L130.2,142.9 L129.8,142.4 L129.9,141.4 L130.6,140.6 L131,140.3 L131.8,139.4 L130.8,138.6 L129.6,139.6 L128.8,138.6"/>
<path d="M127.6,147 L127.9,148 L129,148.6 L128.4,150 L127.2,149 L127.7,147.7 L127.6,147"/>
<path d="M127.8,142 L128.9,142.7 L129.2,143 L129.4,143.8 L128.8,145"/>
<path d="M123.6,157.6 L124.2,157 L125,156.6 L126.2,157 L126.6,157.2 L126.6,157.9 L126.8,158.8 L125.8,158.8 L125.2,159.6 L123.8,159 L123.6,157.6"/>
<path d="M128.8,157.2 L129.3,157 L130.6,156.2 L131.5,156.5 L132.8,156 L133.7,156.1 L135,156.6 L136.1,156.7 L137.2,157.4 L137.9,158.4 L138.8,158.6 L137.6,159.4 L136.8,159.5 L135.4,159 L134.3,159.2 L133,158.6 L132.3,158.8 L130.8,159 L130.1,158.3 L129,158.4 L128.8,157.2"/>
<path d="M123,152.2 L124,151.9 L124.6,151.6 L125.8,152.4 L124.6,153.2 L124,152.8 L123,152.2"/>
<path d="M143.2,165 L144.4,164.4 L145.6,164"/>
<path d="M149.2,164.6 L150,164 L150.8,165 L150.7,165.7 L151,167.2 L151.1,167.8 L150.4,169 L149.4,168.8 L149.1,167.7 L148.8,166.8 L148.8,165.9 L149.2,164.6"/>
<path d="M149.6,165 L150.2,165.9 L150.1,167.1 L150.2,168.4"/>
<path d="M138.4,173 L139,172.1 L139.4,171.4 L139.6,170.4 L140.4,170 L141.4,169"/>
<path d="M138.8,172.6 L139.1,172.1 L140,170.8 L140.6,169.8 L141.2,169.4"/>
<path d="M133.8,146.2 L135.1,147.1 L135.6,147.2 L136.7,147.3 L137.8,148 L138.5,148.2 L139.8,149.2 L140.8,148.8 L142,149.2 L142.8,148.6 L144,148.4 L145.2,148.9 L146.2,148.8 L147.4,149.3 L148.2,150 L148.7,150.9 L149.4,151.8 L149.6,152.6 L150,153.6 L150.2,154.1 L151.2,155 L152.4,155.1 L152.8,155.8 L153.6,155.5 L154.4,155 L155.1,153.8 L155.2,153.2 L154.7,152 L154.6,151.2 L155.6,150 L156.5,150.3 L157.6,150.6 L159.2,151.4 L160,151.6 L161.8,151.6 L163,152.4 L163.7,152.9 L165.6,153 L166.4,153.4 L167.7,153.4 L168.7,154.7 L170,154.8"/>
<path d="M133.8,146.2 L135,145.2 L136.1,145.9 L136.6,146 L137.9,146.6 L138.4,147.6"/>
<path d="M139.8,149.2 L140,149.8 L141,151 L141.8,151.9 L142.6,152.4 L143.7,153.4 L144,154 L143.9,155.1 L143.6,155.8 L144.2,156.5 L144.8,157.2 L145.3,157.4 L146.6,157 L147.2,158.2 L148.2,158.6 L149.4,159 L150.4,159.8 L151.4,160 L153,160.6 L154.4,161.2 L155.6,161.4 L156.5,161.7 L158,162.8 L159,163.8 L160,164.6 L160.7,165.4 L161.6,166.6 L162.4,167.3 L163,168.8 L163.6,170.2 L162.6,170.4 L162,170.6 L161.6,171.2 L160.4,171.6 L159.8,173 L160.9,173.4 L161.4,173.8 L162.3,173.2 L163.6,173 L164.9,172.8 L165.4,172.2 L166.3,172.1 L167.6,172.8 L168.5,173.8 L169.4,174.4 L169.9,174.8 L170.6,175.6"/>
<path d="M142,152.8 L143.2,153 L144,152.4 L144.9,152.4 L146.2,153.2 L146.8,153.8 L147.6,154.6 L146.2,155.2 L145.5,154.6 L144.4,154.6"/>
<path d="M150,150.2 L151.1,150.1 L151.6,149.6 L152.3,149.7 L153,150.4 L152.4,151.8 L152,151.5 L150.8,151.6 L150.7,150.7 L150,150.2"/>
<path d="M145.2,151 L145.7,150.9 L146.8,150.4 L147.3,151.2 L148.2,151.2"/>
<path d="M170.5,155.4 L170.5,175.6"/>
<path d="M104.5,173.8 L105.7,173.7 L107,174.2 L108.1,174 L109.6,174 L111,174.2 L112.2,173.6 L113.3,173.3 L115,173.2 L116,173.3 L117.6,172.6 L118.5,172 L120,172.2 L120.9,171.9 L122.6,171.8 L124.2,171.9 L125,171.4 L126.2,171.9 L127,171.6"/>
<path d="M104.5,175 L106.2,174.9 L107.2,175.2 L108.3,175.5 L110,175 L111.6,174.4 L112.8,174.6 L114.2,174.3 L115.4,174.2 L116.6,173.7 L118,173.6 L119,172.9 L120.6,173 L121.6,172.7 L123,172.6"/>
<path d="M112.6,181.2 L114.2,180.1 L115,179.6 L116.7,178.5 L117.6,178 L118.4,177.8 L119.8,176.9 L120.4,176.4 L120.9,175.8 L122.2,175.7 L123.2,174.8 L124.2,174.1 L125.8,173.6 L127.4,172.7 L128.2,172.6 L128.9,172.6 L129.8,172 L129.6,172.3 L129,173.4 L127.4,173.7 L126.6,174.8 L125.7,175.3 L124,176.2 L122.9,177.3 L121.4,177.6 L120,178.1 L118.8,179 L117.8,179.8 L116,180.4 L114.7,181.2 L113.8,181.6 L112.6,181.2"/>
<path d="M104.5,177.8 L105.2,177.4 L106.2,177.4 L106.9,177.9 L108.4,178 L109.6,178.6 L110,179 L109.6,178.9 L108.4,179.6 L107.1,179.4 L106.2,179.2 L105.8,179.7 L104.5,179.4"/>
<path d="M136.2,183.2 L137,182.6 L138,182.4 L139.1,182.6 L140.4,182.8 L142,182.7 L142.8,183.2 L143.8,183.9 L144.2,184.2 L143.6,184.9 L142.4,185.2 L141.2,184.9 L139.8,185 L138.4,184.7 L137.4,184.6 L137.1,183.5 L136.2,183.2"/>
<path d="M104.5,209.2 L105.5,209 L107,208.4 L107.7,207 L108.8,206.4 L108.9,205.1 L109.8,203.8 L110.3,203.2 L111.2,201.8 L112.4,201.2 L113,199.8 L113.7,198.8 L114.8,198.6 L114.8,199.5 L115.6,200.4 L115.5,201.2 L115,202 L115.5,200.9 L116.4,200 L116.9,199.2 L117.2,198 L118.2,197.5 L118.8,196.4 L119.3,195.2 L119.6,194.6 L120.8,193.4 L121.4,192.6 L122.7,191.7 L123.8,191 L125.2,190.4 L126.2,190.4 L126.8,190.9 L127.8,191.8 L128,193.1 L128.8,193.8 L129.4,194.6 L129.8,195.8 L130.3,195.6 L131,194.6 L132,194.2 L133,194.2 L134,193.4 L134.4,192.4 L135.1,190.7 L135,189.8 L135.4,189.1 L135.8,187.8 L136.8,187.2 L137.2,185.8 L137.4,184.8 L138.4,184.2 L138.9,183.4 L140,183.2 L141.5,183 L142.2,182.6 L143.7,182.7 L144.4,183 L145.6,183.5 L146.2,184 L147.2,184.5 L148.6,184.6 L150.3,184.4 L151.2,185 L152.5,184.9 L153.6,184.6 L154.1,184.2 L155.2,184 L155.6,182.9 L156.6,182.4 L156.8,183.5 L157.4,184.4 L157.1,185.1 L156.6,186.4 L156.5,187.2 L157.2,188.4 L157.6,189.1 L157.6,190.4 L156.7,190.7 L156.2,191.6 L155.6,191.8 L154.4,192 L153.1,192.6 L152.6,194 L153.5,195 L154.6,196 L155.9,196.1 L157,197 L158,198 L159.6,198.6 L160.7,199.1 L162,200 L163,200.7 L164.4,200.6 L164.8,201.5 L165.6,202.2 L166.7,202.5 L168,203 L169.3,202.7 L170,201.6 L170.3,200.3 L171,199.3 L171.2,198.6 L171,197.8 L171.5,196.5 L171.8,195 L171.8,194.1 L172,192.2 L172.2,191.2 L172,189.9 L172.7,188.9 L172.8,187.2 L172.7,186.2 L173.2,185.1 L173.6,184 L173.8,182.5 L174.6,181.4 L174.9,180.9 L175.2,179.6"/>
<path d="M114.8,199 L114.9,200 L115.8,201 L115.5,202.1 L114.6,202.4"/>
<path d="M164,201 L164.4,200 L165.4,199.6 L166.5,200.5 L166.8,200.6 L166.4,201 L166,202.2 L165.4,201.5 L164,201"/>
<path d="M128.8,194.6 L129.6,195.5 L129.6,196.2 L130.4,195"/>
<path d="M170.5,155.4 L170.5,175.6"/>
<path d="M170,155 L171.8,155.2 L173,156 L174.5,156.2 L175.3,157.2 L176.6,157.4 L178,157.5 L178.6,158.1 L180,158.6 L181.4,159.2 L182.8,160 L183.6,160.6 L185,161.6 L185.9,162.9 L186.4,163.4 L186.7,164.2 L187.8,164.8 L188.6,165.3 L189,166.6 L189.6,167.2 L189.6,168.4 L190.2,169.3 L190.6,170.2 L191.5,170.9 L192.2,172 L193,173.3 L194,174.4 L194.8,175.4 L195.8,176.2 L196.8,176.8 L197.8,177.6 L198.4,178.1 L199.8,178.4 L200.8,178.6 L201.8,179.2 L202.6,180 L202,180.5 L201,180.4 L200,179.8 L199,179.8 L197.9,179.1 L196.8,179.2 L195.3,178.9 L194.4,178.8 L192.9,178.5 L192.2,178.4 L191.3,177.6 L190.4,177.6 L189.9,176.4 L189.2,176 L188.6,175.3 L187.6,174.2 L186.7,172.9 L185.8,172.4 L184.7,171.7 L183.6,171.2 L182.7,170.6 L181,170.6 L180.2,171.3 L178.8,171.2 L178.3,172.2 L177.4,172.6 L176.5,173.8 L176.2,174.2 L175.3,174.9 L174.4,174.8 L173.8,174.7 L172.4,175.2 L171.7,175.8 L170.5,175.6"/>
<path d="M187.8,165 L188.3,164.7 L189.6,164.6 L191,165.2 L190.5,165.4 L189.6,166.2"/>
<path d="M191.4,164.6 L193.1,164.9 L194,165.6 L195.8,165.7 L197,166.4 L198.5,166.8 L200,166.4 L201,165.6 L202.6,165.2 L203.6,164.1 L204.6,163.4 L205,162.1 L206.2,161.4 L206.6,160.9 L207.6,159.6 L208.4,160.6 L207.9,162 L207,162.6 L205.8,163.9 L205.2,164.6 L203.8,165.4 L203,166.2 L201.7,166.7 L200.2,167.4 L198.9,167.4 L197,167.4 L195.6,167.3 L194,166.6 L192.5,166.5 L191.8,165.6 L191.4,164.6"/>
<path d="M198.2,154.6 L199.2,154.8 L200,155.2 L201.4,155.4 L202.2,156 L203.7,156.7 L204.4,157.2 L205.2,158.1 L206.2,158.6 L206.9,159 L207.8,160 L208.6,160.3 L209,161.4 L208,161.6 L207.5,160.7 L206.4,160.2 L205.6,159.9 L204.6,158.8 L203.6,158.3 L202.4,157.6 L201.1,156.7 L200.2,156.6 L198.9,155.8 L198.4,155.6 L198.2,154.6"/>
<path d="M204,157 L205,158.2 L206,158.8 L206.8,159.6 L207.5,160.8 L208.2,161.2"/>
<path d="M188,153.4 L188.5,152.9 L189.6,152.8 L190.6,152.8 L191.4,153.6 L191,154.8 L189.7,154.8 L189.2,155 L188.2,154.1 L188,153.4"/>
<path d="M188.4,153.8 L189.4,154.1 L190.8,154.2"/>
<path d="M179.6,151.4 L180.6,150.4"/>
<path d="M212.8,163.4 L213.5,163.9 L214,165 L214.7,165.9 L215.2,166.8 L215.7,168.3 L216.8,169 L217.6,170 L216.4,169.8 L215.5,168.6 L215,168 L213.9,167 L213.6,165.8 L213.5,164.9 L212.8,163.4"/>
<path d="M218.8,171.2 L219.7,171.3 L220.8,171.8 L221.5,172.5 L223,173 L224,173.6 L224.8,174.4 L224,175 L223,174.4 L221.8,174 L221.2,173.6 L219.8,172.8 L219.1,172.4 L218.8,171.2"/>
<path d="M219.2,171.6 L220,172.4 L221.5,172.9 L222.4,174.1 L224,174.6"/>
<path d="M222,169.6 L223,170.1 L224.8,170.6 L226.5,171 L227.4,172 L227.9,172.7 L229,173.2"/>
<path d="M227.6,175.8 L228.6,176.1 L229.6,176.2 L231.1,176.4 L232,177.2 L232.8,177.5 L234,178.2 L232.8,178.6 L231.2,178.6 L230.4,177.8 L229.7,177.5 L228.4,176.8 L227.6,175.8"/>
<path d="M232,173.2 L232.3,174.4 L233.4,175 L234.3,176.1 L234.8,177.2 L235.8,178.3 L236.4,179.4 L237,179.8 L238,181 L236.8,181 L235.7,179.6 L235,179 L234.1,178 L233.4,176.6 L233,175.9 L232.2,174.6 L232,173.2"/>
<path d="M229,183.2 L230,183.2 L230.6,183.6 L231.5,183.9 L232.4,184.4 L231.2,184.8 L230.7,184.4 L229.6,184 L229,183.2"/>
<path d="M247.8,180.4 L249.2,181 L250,180.4"/>
<path d="M198.2,177.4 L198.9,177.2 L200,176.8 L201.3,176.8 L201.8,177.4 L202.5,177.8 L202.6,179 L202,179.5 L201.8,180.4 L201.1,181 L200,180.8 L199.4,180.2 L198.4,180 L198.6,178.5 L198.2,177.4"/>
<path d="M198.8,178 L199.5,178.9 L200.8,179.2 L201.6,179.6"/>
<path d="M206.2,180.8 L207,181.7 L207.6,181.8 L208.4,182.6 L209.2,182.8 L210.3,183.5 L211,183.6 L212,183.2"/>
<path d="M174,178.2 L174.5,177.6 L175.2,176.6 L175.9,175.5 L176.4,174.8 L176.7,174.3 L177.6,173.6"/>
<path d="M174.6,179.2 L174.5,181 L175.2,182 L175.4,183.1 L176.2,185 L176.3,186.8 L177.2,187.8 L177.6,188.9 L178.2,190.6 L178.3,190.9 L179.2,192 L180.5,192.2 L181.4,192.2 L182.5,193.2 L183.2,193.8 L183.3,195.2 L184.2,196.4 L184.3,197.8 L185,198.9 L185,199.6 L184.9,201 L186,202.1 L186,202.8 L186,203.8 L186.8,205.4 L187,205.7 L187.8,206.8 L189.2,207.7 L190,208 L191.3,209 L192.4,209.4 L193.7,209.9 L194.8,210.8 L195.1,211.5 L196.2,213 L196.9,214 L197.2,215.6 L197.8,216.4 L198.8,217.4 L199.1,218.1 L200.2,219.2 L200.9,220.3 L202,221 L203.1,221.8 L204.4,223 L205.8,224 L206.4,225 L207.4,226 L207.8,226.8 L207.7,228.1 L208.4,229.6 L208.5,231 L208.5,232.2 L208.8,233.2"/>
<path d="M196.2,213.2 L197.1,213.7 L198,214.8 L199.1,215.6 L199.6,217.2 L199,218"/>
<path d="M207.4,225.6 L208.2,226.3 L208.4,227.6 L208.5,226.2 L209.4,225.4"/>
<path d="M229.8,183.2 L230.7,184.1 L231.2,184.2 L232.2,184.8"/>
<path d="M235.2,180 L235.6,180.4 L236.8,180.8 L237.6,181.4 L238.4,181.4"/>
<path d="M241.2,209 L242,209.5 L243.4,210 L244.6,211.2 L246,211.8 L246.7,212.9 L247.7,213 L248.8,214 L249.8,214.7 L250.2,215.6 L251.4,216.2 L252.1,217.4 L253.6,218 L254.2,219 L252.8,218.4 L251.8,217.8 L250.4,216.6 L249.6,215.8 L248.6,215.2 L247.8,214.6 L247.2,213.6 L246.3,212.8 L245,212.6 L243.5,211.5 L242.6,210.8 L242.3,209.9 L241.2,209"/>
<path d="M250.6,193.6 L252,194 L252.4,195.1 L253,195.6 L252.6,196.4 L252.6,197.2 L251.2,196.8 L250.8,196.2 L250.4,195.2 L250.7,194.5 L250.6,193.6"/>
<path d="M251,194.2 L251.6,195.1 L252.4,196.4"/>
<path d="M253.4,195 L253.9,195.7 L255,195.8 L255.7,196.9 L256.2,197.6 L256.2,198.5 L256.8,199.6 L255.8,200.2 L255.4,199.5 L254.6,198.6 L253.9,197.7 L253.8,196.8 L253.9,195.7 L253.4,195"/>
<path d="M254,195.6 L254.5,196.8 L255.6,198.6 L256.2,199.6"/>
<path d="M235.4,180 L235.9,180.2 L237,181 L238.4,181.6"/>
<path d="M230,183.6 L230.5,183.9 L231.4,184.6"/>
<path d="M288.8,199.6 L289.7,198.9 L290.6,198.8 L291.3,198.2 L292.4,198.2 L293.6,198.6 L292.8,199.8 L292.3,200.3 L291,200.4 L289.8,200.9 L289.4,200.6 L288.8,199.6"/>
<path d="M289.2,200 L290.2,199.4 L292.3,199.3 L293.2,198.6"/>
<path d="M284.6,202.2 L285.6,201.7 L286.2,201.4 L286.8,201.8 L288,202 L288,202.5 L288.8,203.6 L288.3,203.9 L288,205 L287,205.4 L286.2,205.2 L285.7,204.6 L284.8,204 L284.8,203.1 L284.6,202.2"/>
<path d="M285.2,202.8 L286.3,203.6 L288,204.2"/>
<path d="M284,200.8 L285.2,200"/>
<path d="M265.6,125 L266.3,125 L267.2,124.6"/>
<path d="M270.8,141.2 L271.6,142.4"/>
<path d="M275.6,149.6 L277.1,150.6 L277.8,151.8"/>
</g>
<g fill="none" stroke="#000" stroke-width="1.7" stroke-linecap="round" stroke-linejoin="round">
<path d="M129.2,139.8 L128.4,142 L128.2,144.4"/>
<path d="M128.6,147 L128.4,149.2 L129.2,150.8"/>
<path d="M130,157.6 L133,157.2 L136,157.8 L138,158.6"/>
<path d="M149.8,164.8 L150.2,166.8 L150,168.6"/>
<path d="M138.8,172.6 L140,170.8 L141,169.4"/>
<path d="M111.8,161.4 L112.8,163.2"/>
<path d="M199.2,155.2 L202.2,156.4 L205,158 L207.6,160"/>
<path d="M219.6,171.8 L222,173.2 L224.2,174.6"/>
<path d="M228.6,176.4 L231,177.4 L233.4,178.4"/>
<path d="M232.8,174.2 L234.8,177.2 L237.2,180.2"/>
<path d="M199.2,178.4 L200.8,179 L201.8,179.6"/>
<path d="M128,140.2 L129.6,142"/>
</g>
<g fill="#000"><circle cx="120.5" cy="68.8" r="0.45"/><circle cx="125.8" cy="64.3" r="0.45"/><circle cx="139.3" cy="66" r="0.45"/><circle cx="139.3" cy="69.5" r="0.45"/><circle cx="171.5" cy="68" r="0.45"/><circle cx="171.5" cy="69.8" r="0.45"/><circle cx="174.2" cy="62.2" r="0.45"/><circle cx="110" cy="82" r="0.45"/><circle cx="109.2" cy="84.8" r="0.45"/><circle cx="185" cy="83" r="0.45"/><circle cx="185.6" cy="88" r="0.45"/><circle cx="186" cy="93" r="0.45"/><circle cx="185.6" cy="97.2" r="0.45"/><circle cx="184" cy="100.8" r="0.45"/><circle cx="182" cy="104.8" r="0.8"/><circle cx="181.5" cy="104" r="0.5"/><circle cx="182.4" cy="105.6" r="0.5"/><circle cx="104.8" cy="129.8" r="0.5"/><circle cx="104" cy="130.6" r="0.5"/><circle cx="121.6" cy="135.5" r="0.5"/><circle cx="121.2" cy="137.5" r="0.5"/><circle cx="124" cy="143.8" r="0.5"/><circle cx="161.4" cy="116.8" r="0.6"/><circle cx="167" cy="115.6" r="0.3"/><circle cx="168.6" cy="116.3" r="0.3"/><circle cx="139.4" cy="137.4" r="0.3"/><circle cx="149" cy="144.5" r="0.3"/><circle cx="135" cy="161.3" r="0.45"/><circle cx="139.6" cy="159.6" r="0.45"/><circle cx="141.2" cy="160.8" r="0.45"/><circle cx="129" cy="171.2" r="0.45"/><circle cx="131" cy="170" r="0.45"/><circle cx="133" cy="172" r="0.45"/><circle cx="134.8" cy="172.2" r="0.45"/><circle cx="180" cy="150.8" r="0.45"/><circle cx="182.6" cy="152.2" r="0.45"/><circle cx="197.2" cy="151.8" r="0.45"/><circle cx="213.4" cy="157.8" r="0.45"/><circle cx="211.6" cy="161.2" r="0.45"/><circle cx="221" cy="162.2" r="0.45"/><circle cx="228.6" cy="161.4" r="0.45"/><circle cx="229" cy="164" r="0.45"/><circle cx="202" cy="174" r="0.45"/><circle cx="205.6" cy="175.6" r="0.45"/><circle cx="207.2" cy="175.8" r="0.45"/><circle cx="175.2" cy="177.2" r="0.4"/><circle cx="178.8" cy="177.2" r="0.4"/><circle cx="201" cy="203" r="0.35"/><circle cx="204.6" cy="201.4" r="0.35"/><circle cx="196.2" cy="198" r="0.35"/><circle cx="224.6" cy="209.6" r="0.35"/><circle cx="230" cy="208.2" r="0.35"/><circle cx="250.8" cy="212.2" r="0.55"/><circle cx="253.4" cy="213" r="0.55"/><circle cx="255.6" cy="215.2" r="0.55"/><circle cx="254" cy="214" r="0.55"/><circle cx="256.6" cy="202.6" r="0.6"/><circle cx="254" cy="190.2" r="0.6"/><circle cx="251.2" cy="189" r="0.6"/><circle cx="259" cy="206.6" r="0.6"/><circle cx="260" cy="208.6" r="0.6"/><circle cx="261.4" cy="210.6" r="0.6"/><circle cx="251.6" cy="184" r="0.6"/><circle cx="249" cy="181.2" r="0.6"/><circle cx="258.6" cy="186" r="0.6"/><circle cx="284" cy="187" r="0.6"/><circle cx="256.2" cy="201.4" r="0.5"/><circle cx="257" cy="203.6" r="0.5"/><circle cx="254.4" cy="191.6" r="0.5"/><circle cx="253.6" cy="192.8" r="0.5"/><circle cx="259.4" cy="207.6" r="0.5"/><circle cx="260.6" cy="209.6" r="0.5"/><circle cx="252.2" cy="189.6" r="0.5"/><circle cx="287.6" cy="207.2" r="0.5"/><circle cx="292.6" cy="205.6" r="0.5"/><circle cx="293.2" cy="206.4" r="0.5"/><circle cx="290" cy="202.6" r="0.5"/><circle cx="291.2" cy="204" r="0.5"/><circle cx="254" cy="119" r="0.7"/><circle cx="258" cy="124" r="0.7"/><circle cx="260.5" cy="128.2" r="0.7"/><circle cx="266.5" cy="124.8" r="0.7"/><circle cx="268" cy="128" r="0.7"/><circle cx="257.5" cy="132.8" r="0.7"/><circle cx="271" cy="137" r="0.7"/><circle cx="271.2" cy="141.8" r="0.7"/><circle cx="273.5" cy="146" r="0.7"/><circle cx="276" cy="150" r="0.7"/><circle cx="277.5" cy="151.5" r="0.7"/><circle cx="239.5" cy="130.5" r="0.7"/><circle cx="254.6" cy="119.6" r="0.45"/><circle cx="258.6" cy="123.4" r="0.45"/><circle cx="260" cy="127.6" r="0.45"/><circle cx="267.2" cy="125" r="0.45"/><circle cx="270.8" cy="141.2" r="0.45"/><circle cx="276.6" cy="150.6" r="0.45"/><circle cx="245" cy="116" r="0.45"/><circle cx="250" cy="122" r="0.45"/><circle cx="263" cy="121" r="0.45"/><circle cx="281" cy="151.2" r="0.3"/><circle cx="283.5" cy="155.5" r="0.3"/><circle cx="284.5" cy="166.5" r="0.3"/><circle cx="265.5" cy="120.5" r="0.3"/><circle cx="259" cy="116" r="0.3"/><circle cx="247" cy="111" r="0.3"/><circle cx="237.5" cy="111" r="0.3"/><circle cx="252" cy="148.5" r="0.3"/><circle cx="260" cy="150" r="0.3"/><circle cx="262" cy="117" r="0.3"/><circle cx="251" cy="112" r="0.3"/></g>
</g>
<path d="M199,233.8v-5.6M199,60.2v5.6M293.6,233.8v-5.6M293.6,60.2v5.6M388.2,233.8v-5.6M388.2,60.2v5.6M482.8,233.8v-5.6M482.8,60.2v5.6M577.4,233.8v-5.6M577.4,60.2v5.6M104.6,84h6M639.8,84h-6M104.6,115.4h6M639.8,115.4h-6M104.6,146.8h6M639.8,146.8h-6M104.6,178.2h6M639.8,178.2h-6M104.6,209.6h6M639.8,209.6h-6" stroke="#000" stroke-width="1.6" fill="none"/>
<rect x="104.6" y="60.2" width="535.1999999999999" height="173.60000000000002" fill="none" stroke="#000" stroke-width="2"/>
<text class="ser" x="104.6" y="253.5" text-anchor="middle">120<tspan dx="0.3" dy="-6.7" font-size="12.6">o</tspan><tspan dx="1.3" dy="6.7">E</tspan></text>
<text class="ser" x="199.2" y="253.5" text-anchor="middle">150<tspan dx="0.3" dy="-6.7" font-size="12.6">o</tspan><tspan dx="1.3" dy="6.7">E</tspan></text>
<text class="ser" x="293.8" y="253.5" text-anchor="middle">180<tspan dx="0.3" dy="-6.7" font-size="12.6">o</tspan><tspan dx="0.2" dy="6.7">W</tspan></text>
<text class="ser" x="388.4" y="253.5" text-anchor="middle">150<tspan dx="0.3" dy="-6.7" font-size="12.6">o</tspan><tspan dx="0.2" dy="6.7">W</tspan></text>
<text class="ser" x="483" y="253.5" text-anchor="middle">120<tspan dx="0.3" dy="-6.7" font-size="12.6">o</tspan><tspan dx="0.2" dy="6.7">W</tspan></text>
<text class="ser" x="577.6" y="253.5" text-anchor="middle">90<tspan dx="0.3" dy="-6.7" font-size="12.6">o</tspan><tspan dx="0.2" dy="6.7">W</tspan></text>
<text class="ser" x="99.8" y="92" text-anchor="end">20<tspan dx="0.3" dy="-6.7" font-size="12.6">o</tspan><tspan dx="0.0" dy="6.7">N</tspan></text>
<text class="ser" x="99.8" y="123.4" text-anchor="end">10<tspan dx="0.3" dy="-6.7" font-size="12.6">o</tspan><tspan dx="0.0" dy="6.7">N</tspan></text>
<text class="ser" x="96" y="154.8" text-anchor="end">0<tspan dx="0.3" dy="-6.7" font-size="12.6">o</tspan></text>
<text class="ser" x="99.8" y="186.2" text-anchor="end">10<tspan dx="0.3" dy="-6.7" font-size="12.6">o</tspan><tspan dx="0.0" dy="6.7">S</tspan></text>
<text class="ser" x="99.8" y="217.6" text-anchor="end">20<tspan dx="0.3" dy="-6.7" font-size="12.6">o</tspan><tspan dx="0.0" dy="6.7">S</tspan></text>
<text class="san" x="256.8" y="51" font-size="20" textLength="230.5" lengthAdjust="spacing" style="fill:#000;white-space:pre" xml:space="preserve">(a)eof3  Variance=3.85%</text>
<rect x="656" y="60" width="30" height="174" fill="url(#cb)" stroke="#3a3a3a" stroke-width="0.8"/>
<text class="san" x="693.4" y="90.7" font-size="15.8" letter-spacing="-0.4">0.1</text>
<text class="san" x="693.4" y="138.4" font-size="15.8" letter-spacing="-0.4">0</text>
<text class="san" x="693.4" y="187.4" font-size="15.8" letter-spacing="-0.4">-0.1</text>
<text class="san" x="693.4" y="235" font-size="15.8" letter-spacing="-0.4">-0.2</text>
<rect x="104.5" y="329.5" width="619.0" height="204.0" fill="#fff"/>
<path d="M106.33,423.7v-43.8h0.86v43.8zM107.53,423.7v-12.4h0.86v12.4zM108.73,423.7v-21.1h0.86v21.1zM113.52,423.7v-4.3h0.86v4.3zM117.11,423.7v-8.7h0.86v8.7zM118.31,423.7v-32.4h0.86v32.4zM119.51,423.7v-1.9h0.86v1.9zM123.11,423.7v-11.1h0.86v11.1zM126.70,423.7v-11.1h0.86v11.1zM127.90,423.7v-19.2h0.86v19.2zM129.10,423.7v-45.6h0.86v45.6zM141.08,423.7v-38.7h0.86v38.7zM142.28,423.7v-68.1h0.86v68.1zM143.48,423.7v-2.5h0.86v2.5zM144.68,423.7v-3.8h0.86v3.8zM147.07,423.7v-28.7h0.86v28.7zM149.47,423.7v-30.0h0.86v30.0zM150.67,423.7v-37.5h0.86v37.5zM151.87,423.7v-9.2h0.86v9.2zM155.46,423.7v-33.0h0.86v33.0zM156.66,423.7v-49.6h0.86v49.6zM157.86,423.7v-24.9h0.86v24.9zM159.06,423.7v-34.3h0.86v34.3zM160.26,423.7v-31.1h0.86v31.1zM161.45,423.7v-58.5h0.86v58.5zM186.62,423.7v-38.7h0.86v38.7zM187.82,423.7v-14.9h0.86v14.9zM189.02,423.7v-60.0h0.86v60.0zM190.22,423.7v-2.5h0.86v2.5zM206.99,423.7v-42.4h0.86v42.4zM209.39,423.7v-28.1h0.86v28.1zM210.59,423.7v-20.6h0.86v20.6zM211.79,423.7v-72.2h0.86v72.2zM212.99,423.7v-24.9h0.86v24.9zM214.18,423.7v-54.7h0.86v54.7zM215.38,423.7v-16.2h0.86v16.2zM216.58,423.7v-29.6h0.86v29.6zM221.37,423.7v-5.8h0.86v5.8zM222.57,423.7v-45.6h0.86v45.6zM223.77,423.7v-38.1h0.86v38.1zM224.97,423.7v-33.0h0.86v33.0zM226.17,423.7v-61.5h0.86v61.5zM227.37,423.7v-22.4h0.86v22.4zM228.57,423.7v-30.6h0.86v30.6zM229.76,423.7v-24.9h0.86v24.9zM230.96,423.7v-35.8h0.86v35.8zM246.54,423.7v-6.4h0.86v6.4zM247.74,423.7v-18.7h0.86v18.7zM248.94,423.7v-5.7h0.86v5.7zM276.50,423.7v-16.6h0.86v16.6zM287.29,423.7v-1.1h0.86v1.1zM305.26,423.7v-9.2h0.86v9.2zM306.46,423.7v-18.7h0.86v18.7zM317.25,423.7v-1.1h0.86v1.1zM329.23,423.7v-25.6h0.86v25.6zM334.02,423.7v-13.8h0.86v13.8zM336.42,423.7v-2.6h0.86v2.6zM337.62,423.7v-3.8h0.86v3.8zM342.41,423.7v-8.7h0.86v8.7zM344.81,423.7v-27.2h0.86v27.2zM346.01,423.7v-22.6h0.86v22.6zM354.40,423.7v-2.6h0.86v2.6zM359.19,423.7v-1.9h0.86v1.9zM360.39,423.7v-29.6h0.86v29.6zM361.59,423.7v-47.7h0.86v47.7zM362.79,423.7v-11.9h0.86v11.9zM363.98,423.7v-24.9h0.86v24.9zM365.18,423.7v-14.9h0.86v14.9zM391.55,423.7v-4.5h0.86v4.5zM415.52,423.7v-2.6h0.86v2.6zM416.71,423.7v-13.8h0.86v13.8zM419.11,423.7v-2.5h0.86v2.5zM432.29,423.7v-29.6h0.86v29.6zM435.89,423.7v-26.2h0.86v26.2zM437.09,423.7v-26.8h0.86v26.8zM438.29,423.7v-28.1h0.86v28.1zM439.48,423.7v-30.7h0.86v30.7zM441.88,423.7v-41.1h0.86v41.1zM443.08,423.7v-8.9h0.86v8.9zM449.07,423.7v-8.9h0.86v8.9zM457.46,423.7v-37.7h0.86v37.7zM458.66,423.7v-55.3h0.86v55.3zM459.86,423.7v-24.0h0.86v24.0zM461.05,423.7v-48.7h0.86v48.7zM462.25,423.7v-59.4h0.86v59.4zM463.45,423.7v-47.7h0.86v47.7zM464.65,423.7v-36.0h0.86v36.0zM465.85,423.7v-35.8h0.86v35.8zM467.05,423.7v-21.9h0.86v21.9zM468.25,423.7v-26.4h0.86v26.4zM474.24,423.7v-3.8h0.86v3.8zM475.44,423.7v-4.0h0.86v4.0zM476.63,423.7v-12.3h0.86v12.3zM477.83,423.7v-23.4h0.86v23.4zM479.03,423.7v-20.6h0.86v20.6zM480.23,423.7v-46.4h0.86v46.4zM481.43,423.7v-38.3h0.86v38.3zM482.63,423.7v-30.0h0.86v30.0zM483.82,423.7v-4.9h0.86v4.9zM485.02,423.7v-38.7h0.86v38.7zM486.22,423.7v-43.9h0.86v43.9zM487.42,423.7v-24.3h0.86v24.3zM488.62,423.7v-15.3h0.86v15.3zM489.82,423.7v-17.5h0.86v17.5zM493.41,423.7v-5.7h0.86v5.7zM494.61,423.7v-21.9h0.86v21.9zM495.81,423.7v-13.0h0.86v13.0zM497.01,423.7v-38.3h0.86v38.3zM498.21,423.7v-5.7h0.86v5.7zM500.60,423.7v-3.8h0.86v3.8zM501.80,423.7v-30.0h0.86v30.0zM503.00,423.7v-50.0h0.86v50.0zM504.20,423.7v-33.8h0.86v33.8zM505.40,423.7v-33.8h0.86v33.8zM506.59,423.7v-3.0h0.86v3.0zM508.99,423.7v-5.7h0.86v5.7zM510.19,423.7v-33.4h0.86v33.4zM511.39,423.7v-53.4h0.86v53.4zM512.59,423.7v-63.7h0.86v63.7zM513.78,423.7v-41.9h0.86v41.9zM514.98,423.7v-66.4h0.86v66.4zM516.18,423.7v-60.5h0.86v60.5zM517.38,423.7v-32.4h0.86v32.4zM518.58,423.7v-14.0h0.86v14.0zM535.36,423.7v-0.9h0.86v0.9zM555.73,423.7v-3.8h0.86v3.8zM604.86,423.7v-17.5h0.86v17.5zM606.06,423.7v-33.9h0.86v33.9zM607.26,423.7v-94.3h0.86v94.3zM608.46,423.7v-59.0h0.86v59.0zM609.66,423.7v-16.8h0.86v16.8zM610.85,423.7v-11.1h0.86v11.1zM612.05,423.7v-18.7h0.86v18.7zM613.25,423.7v-30.6h0.86v30.6zM614.45,423.7v-20.0h0.86v20.0zM615.65,423.7v-43.0h0.86v43.0zM616.85,423.7v-36.6h0.86v36.6zM618.05,423.7v-5.7h0.86v5.7zM649.20,423.7v-4.9h0.86v4.9zM667.18,423.7v-7.7h0.86v7.7zM668.38,423.7v-12.6h0.86v12.6zM669.58,423.7v-19.2h0.86v19.2zM670.77,423.7v-30.6h0.86v30.6zM671.97,423.7v-37.5h0.86v37.5zM673.17,423.7v-7.7h0.86v7.7zM675.57,423.7v-8.7h0.86v8.7zM679.16,423.7v-22.6h0.86v22.6zM680.36,423.7v-2.6h0.86v2.6zM704.33,423.7v-8.7h0.86v8.7zM705.53,423.7v-21.9h0.86v21.9zM706.73,423.7v-2.5h0.86v2.5zM713.92,423.7v-39.6h0.86v39.6zM715.12,423.7v-24.5h0.86v24.5zM716.31,423.7v-2.5h0.86v2.5zM718.71,423.7v-8.5h0.86v8.5zM722.31,423.7v-33.8h0.86v33.8z" fill="#0000ff"/>
<path d="M105.13,423.7v71.5h0.86v-71.5zM109.92,423.7v34.5h0.86v-34.5zM111.12,423.7v27.5h0.86v-27.5zM112.32,423.7v20.0h0.86v-20.0zM114.72,423.7v17.5h0.86v-17.5zM115.92,423.7v31.3h0.86v-31.3zM120.71,423.7v2.6h0.86v-2.6zM121.91,423.7v15.7h0.86v-15.7zM124.30,423.7v19.4h0.86v-19.4zM125.50,423.7v3.8h0.86v-3.8zM130.30,423.7v8.9h0.86v-8.9zM131.49,423.7v55.3h0.86v-55.3zM132.69,423.7v71.5h0.86v-71.5zM133.89,423.7v44.5h0.86v-44.5zM135.09,423.7v40.0h0.86v-40.0zM136.29,423.7v15.1h0.86v-15.1zM137.49,423.7v33.8h0.86v-33.8zM138.69,423.7v47.3h0.86v-47.3zM139.88,423.7v32.6h0.86v-32.6zM145.88,423.7v5.1h0.86v-5.1zM148.27,423.7v5.7h0.86v-5.7zM153.07,423.7v45.8h0.86v-45.8zM154.26,423.7v76.9h0.86v-76.9zM162.65,423.7v21.3h0.86v-21.3zM163.85,423.7v42.6h0.86v-42.6zM165.05,423.7v18.1h0.86v-18.1zM166.25,423.7v23.8h0.86v-23.8zM167.45,423.7v37.5h0.86v-37.5zM168.65,423.7v24.3h0.86v-24.3zM169.84,423.7v29.4h0.86v-29.4zM171.04,423.7v32.6h0.86v-32.6zM172.24,423.7v46.8h0.86v-46.8zM173.44,423.7v10.0h0.86v-10.0zM174.64,423.7v33.8h0.86v-33.8zM175.84,423.7v49.8h0.86v-49.8zM177.03,423.7v1.3h0.86v-1.3zM178.23,423.7v26.2h0.86v-26.2zM179.43,423.7v43.9h0.86v-43.9zM180.63,423.7v44.5h0.86v-44.5zM181.83,423.7v62.0h0.86v-62.0zM183.03,423.7v23.2h0.86v-23.2zM184.22,423.7v2.6h0.86v-2.6zM185.42,423.7v9.4h0.86v-9.4zM192.61,423.7v7.5h0.86v-7.5zM193.81,423.7v31.9h0.86v-31.9zM195.01,423.7v47.7h0.86v-47.7zM196.21,423.7v35.1h0.86v-35.1zM197.41,423.7v47.0h0.86v-47.0zM198.61,423.7v50.7h0.86v-50.7zM199.80,423.7v50.7h0.86v-50.7zM201.00,423.7v8.1h0.86v-8.1zM202.20,423.7v8.9h0.86v-8.9zM203.40,423.7v31.9h0.86v-31.9zM204.60,423.7v8.9h0.86v-8.9zM205.80,423.7v18.1h0.86v-18.1zM208.19,423.7v2.6h0.86v-2.6zM217.78,423.7v23.8h0.86v-23.8zM218.98,423.7v11.9h0.86v-11.9zM220.18,423.7v33.2h0.86v-33.2zM232.16,423.7v35.6h0.86v-35.6zM233.36,423.7v29.4h0.86v-29.4zM234.56,423.7v41.5h0.86v-41.5zM235.76,423.7v50.2h0.86v-50.2zM236.95,423.7v13.8h0.86v-13.8zM238.15,423.7v82.0h0.86v-82.0zM239.35,423.7v51.5h0.86v-51.5zM240.55,423.7v23.2h0.86v-23.2zM241.75,423.7v22.6h0.86v-22.6zM244.14,423.7v17.0h0.86v-17.0zM245.34,423.7v1.3h0.86v-1.3zM250.14,423.7v48.3h0.86v-48.3zM251.33,423.7v49.6h0.86v-49.6zM252.53,423.7v53.9h0.86v-53.9zM253.73,423.7v57.7h0.86v-57.7zM254.93,423.7v68.8h0.86v-68.8zM256.13,423.7v88.8h0.86v-88.8zM257.33,423.7v70.7h0.86v-70.7zM258.53,423.7v71.5h0.86v-71.5zM259.72,423.7v61.5h0.86v-61.5zM260.92,423.7v68.8h0.86v-68.8zM262.12,423.7v92.6h0.86v-92.6zM263.32,423.7v37.0h0.86v-37.0zM264.52,423.7v71.5h0.86v-71.5zM265.72,423.7v57.0h0.86v-57.0zM266.91,423.7v52.1h0.86v-52.1zM268.11,423.7v42.1h0.86v-42.1zM269.31,423.7v50.2h0.86v-50.2zM270.51,423.7v44.5h0.86v-44.5zM271.71,423.7v68.3h0.86v-68.3zM272.91,423.7v48.3h0.86v-48.3zM274.10,423.7v44.5h0.86v-44.5zM275.30,423.7v28.9h0.86v-28.9zM277.70,423.7v69.6h0.86v-69.6zM278.90,423.7v109.6h0.86v-109.6zM280.10,423.7v92.6h0.86v-92.6zM281.29,423.7v88.3h0.86v-88.3zM282.49,423.7v85.8h0.86v-85.8zM283.69,423.7v47.0h0.86v-47.0zM284.89,423.7v63.9h0.86v-63.9zM286.09,423.7v43.4h0.86v-43.4zM288.49,423.7v45.1h0.86v-45.1zM289.68,423.7v52.6h0.86v-52.6zM290.88,423.7v60.7h0.86v-60.7zM292.08,423.7v76.4h0.86v-76.4zM293.28,423.7v60.7h0.86v-60.7zM294.48,423.7v48.8h0.86v-48.8zM295.68,423.7v10.8h0.86v-10.8zM296.87,423.7v8.9h0.86v-8.9zM298.07,423.7v8.1h0.86v-8.1zM299.27,423.7v39.4h0.86v-39.4zM300.47,423.7v62.0h0.86v-62.0zM301.67,423.7v51.5h0.86v-51.5zM302.87,423.7v35.1h0.86v-35.1zM304.06,423.7v25.6h0.86v-25.6zM307.66,423.7v16.2h0.86v-16.2zM308.86,423.7v8.1h0.86v-8.1zM310.06,423.7v50.2h0.86v-50.2zM311.25,423.7v25.6h0.86v-25.6zM312.45,423.7v23.2h0.86v-23.2zM313.65,423.7v9.4h0.86v-9.4zM314.85,423.7v27.0h0.86v-27.0zM316.05,423.7v3.8h0.86v-3.8zM318.45,423.7v30.7h0.86v-30.7zM319.64,423.7v26.2h0.86v-26.2zM320.84,423.7v51.5h0.86v-51.5zM322.04,423.7v10.8h0.86v-10.8zM323.24,423.7v32.6h0.86v-32.6zM324.44,423.7v42.1h0.86v-42.1zM325.64,423.7v5.1h0.86v-5.1zM326.83,423.7v1.3h0.86v-1.3zM330.43,423.7v28.9h0.86v-28.9zM331.63,423.7v5.1h0.86v-5.1zM332.83,423.7v19.4h0.86v-19.4zM335.22,423.7v3.8h0.86v-3.8zM338.82,423.7v21.9h0.86v-21.9zM340.02,423.7v27.0h0.86v-27.0zM341.21,423.7v51.5h0.86v-51.5zM343.61,423.7v9.4h0.86v-9.4zM347.21,423.7v30.0h0.86v-30.0zM348.41,423.7v73.9h0.86v-73.9zM349.60,423.7v68.3h0.86v-68.3zM350.80,423.7v24.3h0.86v-24.3zM352.00,423.7v33.8h0.86v-33.8zM353.20,423.7v48.8h0.86v-48.8zM355.60,423.7v11.9h0.86v-11.9zM356.79,423.7v1.3h0.86v-1.3zM357.99,423.7v18.9h0.86v-18.9zM366.38,423.7v42.6h0.86v-42.6zM367.58,423.7v45.8h0.86v-45.8zM368.78,423.7v57.7h0.86v-57.7zM369.98,423.7v47.0h0.86v-47.0zM371.17,423.7v45.8h0.86v-45.8zM372.37,423.7v44.5h0.86v-44.5zM373.57,423.7v53.4h0.86v-53.4zM374.77,423.7v48.8h0.86v-48.8zM375.97,423.7v60.7h0.86v-60.7zM377.17,423.7v64.5h0.86v-64.5zM378.37,423.7v23.2h0.86v-23.2zM379.56,423.7v29.4h0.86v-29.4zM380.76,423.7v30.0h0.86v-30.0zM381.96,423.7v55.3h0.86v-55.3zM383.16,423.7v34.5h0.86v-34.5zM384.36,423.7v15.1h0.86v-15.1zM385.56,423.7v7.5h0.86v-7.5zM386.75,423.7v22.6h0.86v-22.6zM387.95,423.7v49.8h0.86v-49.8zM389.15,423.7v24.3h0.86v-24.3zM390.35,423.7v18.9h0.86v-18.9zM392.75,423.7v25.6h0.86v-25.6zM393.94,423.7v78.8h0.86v-78.8zM395.14,423.7v57.0h0.86v-57.0zM396.34,423.7v33.2h0.86v-33.2zM397.54,423.7v44.5h0.86v-44.5zM398.74,423.7v43.9h0.86v-43.9zM399.94,423.7v42.6h0.86v-42.6zM401.13,423.7v12.6h0.86v-12.6zM402.33,423.7v20.0h0.86v-20.0zM403.53,423.7v21.3h0.86v-21.3zM404.73,423.7v53.8h0.86v-53.8zM405.93,423.7v60.7h0.86v-60.7zM407.13,423.7v37.5h0.86v-37.5zM408.33,423.7v47.5h0.86v-47.5zM409.52,423.7v43.8h0.86v-43.8zM410.72,423.7v38.9h0.86v-38.9zM411.92,423.7v47.0h0.86v-47.0zM413.12,423.7v39.4h0.86v-39.4zM414.32,423.7v21.3h0.86v-21.3zM417.91,423.7v4.3h0.86v-4.3zM420.31,423.7v15.1h0.86v-15.1zM421.51,423.7v24.3h0.86v-24.3zM422.71,423.7v20.7h0.86v-20.7zM423.90,423.7v50.7h0.86v-50.7zM425.10,423.7v41.9h0.86v-41.9zM426.30,423.7v70.0h0.86v-70.0zM427.50,423.7v36.2h0.86v-36.2zM428.70,423.7v55.6h0.86v-55.6zM429.90,423.7v28.9h0.86v-28.9zM431.09,423.7v3.8h0.86v-3.8zM433.49,423.7v27.5h0.86v-27.5zM434.69,423.7v1.3h0.86v-1.3zM440.68,423.7v6.2h0.86v-6.2zM444.28,423.7v42.6h0.86v-42.6zM445.48,423.7v6.2h0.86v-6.2zM446.67,423.7v15.1h0.86v-15.1zM447.87,423.7v8.9h0.86v-8.9zM450.27,423.7v1.9h0.86v-1.9zM451.47,423.7v69.4h0.86v-69.4zM452.67,423.7v7.5h0.86v-7.5zM453.86,423.7v1.9h0.86v-1.9zM455.06,423.7v18.1h0.86v-18.1zM456.26,423.7v1.9h0.86v-1.9zM469.44,423.7v20.7h0.86v-20.7zM470.64,423.7v38.9h0.86v-38.9zM471.84,423.7v40.0h0.86v-40.0zM473.04,423.7v25.6h0.86v-25.6zM491.01,423.7v4.3h0.86v-4.3zM492.21,423.7v15.7h0.86v-15.7zM499.40,423.7v15.1h0.86v-15.1zM507.79,423.7v11.9h0.86v-11.9zM519.78,423.7v5.1h0.86v-5.1zM520.97,423.7v34.5h0.86v-34.5zM522.17,423.7v30.0h0.86v-30.0zM523.37,423.7v25.6h0.86v-25.6zM524.57,423.7v11.3h0.86v-11.3zM525.77,423.7v49.6h0.86v-49.6zM526.97,423.7v20.0h0.86v-20.0zM528.17,423.7v29.4h0.86v-29.4zM529.36,423.7v31.9h0.86v-31.9zM530.56,423.7v73.9h0.86v-73.9zM531.76,423.7v60.7h0.86v-60.7zM532.96,423.7v46.4h0.86v-46.4zM534.16,423.7v52.1h0.86v-52.1zM536.55,423.7v8.9h0.86v-8.9zM537.75,423.7v22.6h0.86v-22.6zM538.95,423.7v23.2h0.86v-23.2zM540.15,423.7v46.4h0.86v-46.4zM541.35,423.7v42.6h0.86v-42.6zM542.55,423.7v70.2h0.86v-70.2zM543.74,423.7v95.2h0.86v-95.2zM544.94,423.7v56.4h0.86v-56.4zM546.14,423.7v65.8h0.86v-65.8zM547.34,423.7v48.3h0.86v-48.3zM548.54,423.7v50.2h0.86v-50.2zM549.74,423.7v41.9h0.86v-41.9zM550.93,423.7v61.5h0.86v-61.5zM552.13,423.7v26.2h0.86v-26.2zM553.33,423.7v18.9h0.86v-18.9zM554.53,423.7v38.1h0.86v-38.1zM556.93,423.7v23.8h0.86v-23.8zM558.13,423.7v17.5h0.86v-17.5zM559.32,423.7v61.5h0.86v-61.5zM560.52,423.7v34.5h0.86v-34.5zM561.72,423.7v30.0h0.86v-30.0zM562.92,423.7v45.1h0.86v-45.1zM564.12,423.7v79.6h0.86v-79.6zM565.32,423.7v42.6h0.86v-42.6zM566.51,423.7v90.7h0.86v-90.7zM567.71,423.7v79.6h0.86v-79.6zM568.91,423.7v101.5h0.86v-101.5zM570.11,423.7v92.6h0.86v-92.6zM571.31,423.7v43.9h0.86v-43.9zM572.51,423.7v35.1h0.86v-35.1zM573.70,423.7v63.9h0.86v-63.9zM574.90,423.7v37.0h0.86v-37.0zM576.10,423.7v27.5h0.86v-27.5zM577.30,423.7v21.9h0.86v-21.9zM578.50,423.7v32.6h0.86v-32.6zM579.70,423.7v52.1h0.86v-52.1zM580.89,423.7v50.2h0.86v-50.2zM582.09,423.7v49.6h0.86v-49.6zM583.29,423.7v57.7h0.86v-57.7zM584.49,423.7v87.7h0.86v-87.7zM585.69,423.7v86.4h0.86v-86.4zM586.89,423.7v40.7h0.86v-40.7zM588.09,423.7v41.9h0.86v-41.9zM589.28,423.7v65.3h0.86v-65.3zM590.48,423.7v45.1h0.86v-45.1zM591.68,423.7v60.2h0.86v-60.2zM592.88,423.7v20.0h0.86v-20.0zM594.08,423.7v28.1h0.86v-28.1zM595.28,423.7v8.1h0.86v-8.1zM596.47,423.7v28.9h0.86v-28.9zM597.67,423.7v17.0h0.86v-17.0zM598.87,423.7v64.5h0.86v-64.5zM600.07,423.7v31.9h0.86v-31.9zM601.27,423.7v39.4h0.86v-39.4zM602.47,423.7v9.4h0.86v-9.4zM619.24,423.7v15.1h0.86v-15.1zM620.44,423.7v47.0h0.86v-47.0zM621.64,423.7v38.9h0.86v-38.9zM622.84,423.7v84.5h0.86v-84.5zM624.04,423.7v78.8h0.86v-78.8zM625.24,423.7v57.7h0.86v-57.7zM626.43,423.7v58.3h0.86v-58.3zM627.63,423.7v73.4h0.86v-73.4zM628.83,423.7v78.3h0.86v-78.3zM630.03,423.7v56.4h0.86v-56.4zM631.23,423.7v35.1h0.86v-35.1zM632.43,423.7v44.5h0.86v-44.5zM633.62,423.7v57.0h0.86v-57.0zM634.82,423.7v49.6h0.86v-49.6zM636.02,423.7v6.2h0.86v-6.2zM637.22,423.7v46.4h0.86v-46.4zM638.42,423.7v11.9h0.86v-11.9zM639.62,423.7v35.1h0.86v-35.1zM640.81,423.7v8.1h0.86v-8.1zM642.01,423.7v32.6h0.86v-32.6zM643.21,423.7v19.4h0.86v-19.4zM644.41,423.7v54.5h0.86v-54.5zM645.61,423.7v8.9h0.86v-8.9zM646.81,423.7v55.8h0.86v-55.8zM648.01,423.7v48.8h0.86v-48.8zM650.40,423.7v7.0h0.86v-7.0zM651.60,423.7v19.4h0.86v-19.4zM652.80,423.7v32.6h0.86v-32.6zM654.00,423.7v61.5h0.86v-61.5zM655.20,423.7v25.6h0.86v-25.6zM656.39,423.7v31.9h0.86v-31.9zM657.59,423.7v48.8h0.86v-48.8zM658.79,423.7v27.0h0.86v-27.0zM659.99,423.7v18.1h0.86v-18.1zM661.19,423.7v21.9h0.86v-21.9zM662.39,423.7v24.3h0.86v-24.3zM663.58,423.7v33.8h0.86v-33.8zM664.78,423.7v24.3h0.86v-24.3zM665.98,423.7v15.1h0.86v-15.1zM674.37,423.7v8.1h0.86v-8.1zM676.77,423.7v28.9h0.86v-28.9zM677.97,423.7v10.0h0.86v-10.0zM681.56,423.7v30.0h0.86v-30.0zM682.76,423.7v17.5h0.86v-17.5zM683.96,423.7v35.1h0.86v-35.1zM685.16,423.7v57.0h0.86v-57.0zM686.35,423.7v96.4h0.86v-96.4zM687.55,423.7v47.0h0.86v-47.0zM688.75,423.7v65.8h0.86v-65.8zM689.95,423.7v27.0h0.86v-27.0zM691.15,423.7v33.8h0.86v-33.8zM692.35,423.7v29.4h0.86v-29.4zM693.54,423.7v50.7h0.86v-50.7zM694.74,423.7v45.1h0.86v-45.1zM695.94,423.7v50.2h0.86v-50.2zM697.14,423.7v38.9h0.86v-38.9zM698.34,423.7v49.6h0.86v-49.6zM699.54,423.7v10.8h0.86v-10.8zM700.73,423.7v8.1h0.86v-8.1zM701.93,423.7v23.2h0.86v-23.2zM703.13,423.7v1.9h0.86v-1.9zM707.93,423.7v61.9h0.86v-61.9zM709.12,423.7v44.5h0.86v-44.5zM710.32,423.7v7.5h0.86v-7.5zM711.52,423.7v33.8h0.86v-33.8zM712.72,423.7v14.3h0.86v-14.3zM717.51,423.7v10.0h0.86v-10.0zM719.91,423.7v37.0h0.86v-37.0zM721.11,423.7v18.1h0.86v-18.1z" fill="#ff0000"/>
<path d="M104.5,423.7H723.5" stroke="#262626" stroke-width="0.7"/>
<path d="M133.9,533.5v-5.6M133.9,329.5v5.6M206.4,533.5v-5.6M206.4,329.5v5.6M278.5,533.5v-5.6M278.5,329.5v5.6M349.5,533.5v-5.6M349.5,329.5v5.6M421.9,533.5v-5.6M421.9,329.5v5.6M494.4,533.5v-5.6M494.4,329.5v5.6M565.3,533.5v-5.6M565.3,329.5v5.6M637.3,533.5v-5.6M637.3,329.5v5.6M709.6,533.5v-5.6M709.6,329.5v5.6M104.5,329.4h5.6M723.5,329.4h-5.6M104.5,423.7h5.6M723.5,423.7h-5.6M104.5,518h5.6M723.5,518h-5.6" stroke="#262626" stroke-width="0.9" fill="none"/>
<rect x="104.5" y="329.5" width="619.0" height="204.0" fill="none" stroke="#262626" stroke-width="0.9"/>
<text class="san" x="108.3" y="556.6" textLength="52.2" lengthAdjust="spacing" font-size="16">1950<tspan style="font-family:'Liberation Sans','Noto Serif CJK SC','Noto Sans CJK SC',sans-serif">年</tspan></text>
<text class="san" x="180.8" y="556.6" textLength="52.2" lengthAdjust="spacing" font-size="16">1955<tspan style="font-family:'Liberation Sans','Noto Serif CJK SC','Noto Sans CJK SC',sans-serif">年</tspan></text>
<text class="san" x="252.9" y="556.6" textLength="52.2" lengthAdjust="spacing" font-size="16">1960<tspan style="font-family:'Liberation Sans','Noto Serif CJK SC','Noto Sans CJK SC',sans-serif">年</tspan></text>
<text class="san" x="323.9" y="556.6" textLength="52.2" lengthAdjust="spacing" font-size="16">1965<tspan style="font-family:'Liberation Sans','Noto Serif CJK SC','Noto Sans CJK SC',sans-serif">年</tspan></text>
<text class="san" x="396.3" y="556.6" textLength="52.2" lengthAdjust="spacing" font-size="16">1970<tspan style="font-family:'Liberation Sans','Noto Serif CJK SC','Noto Sans CJK SC',sans-serif">年</tspan></text>
<text class="san" x="468.8" y="556.6" textLength="52.2" lengthAdjust="spacing" font-size="16">1975<tspan style="font-family:'Liberation Sans','Noto Serif CJK SC','Noto Sans CJK SC',sans-serif">年</tspan></text>
<text class="san" x="539.7" y="556.6" textLength="52.2" lengthAdjust="spacing" font-size="16">1980<tspan style="font-family:'Liberation Sans','Noto Serif CJK SC','Noto Sans CJK SC',sans-serif">年</tspan></text>
<text class="san" x="611.7" y="556.6" textLength="52.2" lengthAdjust="spacing" font-size="16">1985<tspan style="font-family:'Liberation Sans','Noto Serif CJK SC','Noto Sans CJK SC',sans-serif">年</tspan></text>
<text class="san" x="684" y="556.6" textLength="52.2" lengthAdjust="spacing" font-size="16">1990<tspan style="font-family:'Liberation Sans','Noto Serif CJK SC','Noto Sans CJK SC',sans-serif">年</tspan></text>
<text class="san" x="98.6" y="335.5" text-anchor="end" font-size="16.8">5</text>
<text class="san" x="98.6" y="429.8" text-anchor="end" font-size="16.8">0</text>
<text class="san" x="98.6" y="524.1" text-anchor="end" font-size="16.8">-5</text>
<text class="san" x="388.5" y="322.2" font-size="17.6" textLength="51" lengthAdjust="spacing" style="fill:#000">(b)pc3</text>
</svg></body></html>
